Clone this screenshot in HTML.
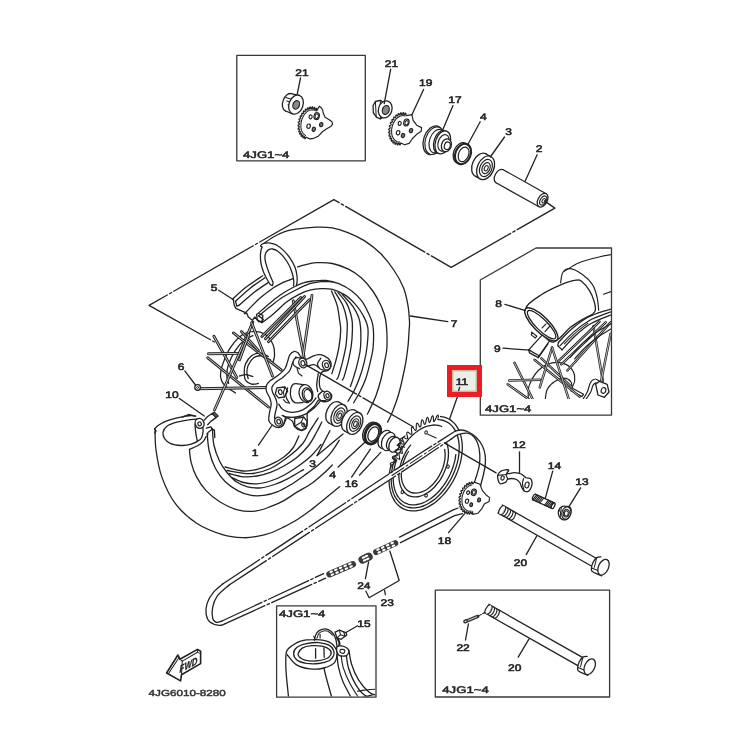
<!DOCTYPE html>
<html><head><meta charset="utf-8"><title>Rear wheel parts diagram</title>
<style>
html,body{margin:0;padding:0;background:#fff;}
svg{display:block;text-rendering:geometricPrecision;font-family:"Liberation Sans",sans-serif;}
path,line,ellipse{stroke-linecap:round;stroke-linejoin:round;}
</style></head><body>
<svg width="751" height="742" viewBox="0 0 751 742">
<rect width="751" height="742" fill="#fff"/>
<path d="M262.9 244.3C264.6 243 269.7 239.1 273.4 237C277 234.9 280.9 233 284.7 231.6C288.5 230.3 290.8 229.8 296 229.1C301.3 228.3 310.1 227.3 316.2 227.1C322.2 226.9 327 227 332.4 227.9C337.7 228.9 343.1 230.6 348.5 232.8C353.9 234.9 359.3 237.4 364.7 240.9C370.1 244.4 376 249 380.9 253.8C385.7 258.7 390 264.3 393.8 270C397.6 275.6 401.1 281.8 403.5 287.8C405.9 293.7 407 299.9 408 305.6C409 311.2 409.3 317.7 409.5 321.7C409.7 325.8 409.4 325.9 409.1 330C408.9 334.1 408.6 340.8 408 346.2C407.4 351.6 406.7 357 405.8 362.4C404.8 367.7 403.7 373.1 402.5 378.5C401.3 383.9 400.1 389.3 398.5 394.7C396.9 400.1 394.6 406.3 392.8 410.9C391 415.5 388.5 420.3 387.6 422.2" fill="none" stroke="#222" stroke-width="1.3" />
<path d="M297.6 266.9C298.8 266.6 301.8 265.5 304.9 264.8C307.9 264.1 311.6 262.9 316.2 262.7C320.8 262.5 327 262.4 332.4 263.5C337.7 264.6 343.7 266.8 348.5 269.2C353.4 271.6 357.4 274.4 361.5 278.1C365.5 281.7 369.5 286.4 372.8 291C376 295.6 378.7 300.7 380.9 305.6C383 310.4 384.7 313.4 385.7 320.1C386.7 326.9 387.2 339.1 387 346.2C386.8 353.2 385.4 357 384.4 362.4C383.4 367.7 382.5 373.1 381.2 378.5C379.8 383.9 378.1 389.8 376.3 394.7C374.6 399.5 372.1 404.4 370.6 407.6C369.2 410.9 368 413 367.4 414.1" fill="none" stroke="#222" stroke-width="1.3" />
<path d="M256.6 314.6C258.3 313.2 262.7 309.2 266.6 305.9C270.5 302.7 275.5 298.4 279.9 295.3C284.4 292.2 289.4 289.4 293.3 287.3C297.1 285.2 300 284 303.2 282.9C306.5 281.9 309.2 281.4 312.9 281C316.7 280.6 321.6 280 325.9 280.5C330.2 281 334.5 282 338.8 283.7C343.1 285.5 348 288.2 351.8 291C355.5 293.8 358.8 297.2 361.5 300.7C364.2 304.2 366 308 367.9 312C369.8 316.1 371.9 319.3 372.8 325C373.7 330.7 373.7 339.9 373.2 346.2C372.8 352.4 371.4 357 370.2 362.4C368.9 367.7 367.5 373.7 365.8 378.5C364.1 383.4 362.2 387.4 360.1 391.5C358.1 395.5 354.7 400.9 353.7 402.8" fill="none" stroke="#222" stroke-width="1.3" />
<path d="M258.6 315.9C260.4 314.5 265.3 310.4 269.3 307.3C273.3 304.2 278.2 300.2 282.6 297.3C287.1 294.4 291.4 292.2 295.9 290C300.4 287.7 305.5 285.1 309.7 283.7C313.9 282.4 317.3 282 321 281.6C324.8 281.3 330.5 281.8 332.4 281.8" fill="none" stroke="#222" stroke-width="1.3" />
<path d="M262 322.6C263.9 321.2 269.2 317.4 273.3 313.9C277.4 310.5 282.4 305.2 286.6 302C290.8 298.7 294.7 296.6 298.6 294.6C302.4 292.7 306 291.2 309.7 290.2C313.4 289.2 317.3 288.7 321 288.6C324.8 288.5 328.3 288.3 332.4 289.4C336.4 290.5 341.5 292.6 345.3 295.1C349.1 297.5 352 300.6 355 303.9C358 307.3 360.9 311.2 363.1 315.3C365.2 319.3 367.3 323.1 367.9 328.2C368.6 333.4 367.7 340.5 367.1 346.2C366.5 351.9 365.5 357 364.2 362.4C362.9 367.7 361.1 373.7 359.3 378.5C357.6 383.4 355.6 387.7 353.7 391.5C351.8 395.2 349 399.5 348 401.2" fill="none" stroke="#222" stroke-width="1.3" />
<path d="M256.6 314.6 L257.3 319.9 L262 322.6 L263.3 319.3 L258.6 315.9" fill="none" stroke="#222" stroke-width="1.3" />
<path d="M342.1 294.2C343.9 296.4 350.4 302.6 353.4 307.2C356.3 311.8 358.6 315.2 359.8 321.7C361 328.2 361 339.4 360.6 346.2C360.3 352.9 358.9 357.2 357.7 362.4C356.6 367.5 354.9 372.9 353.7 376.9C352.5 380.9 351 385 350.4 386.6" fill="none" stroke="#222" stroke-width="1.3" />
<path d="M338 292.6C339.5 294.5 344.6 299.6 346.9 303.9C349.2 308.3 350.8 314.2 351.8 318.5C352.7 322.9 352.5 325.4 352.4 330C352.3 334.6 352 340.8 351.2 346.2C350.5 351.6 349.2 357.2 348 362.4C346.8 367.5 344.9 373.9 344 376.9C343 379.9 342.6 379.6 342.4 380.1" fill="none" stroke="#222" stroke-width="1.3" />
<path d="M334.8 291.8C336.1 294.1 340.8 300.9 342.9 305.6C344.9 310.3 346.2 316.1 346.9 320.1C347.6 324.2 347.4 325.7 347.2 330C347 334.3 346.7 340.8 345.9 346.2C345.1 351.6 343.6 357.2 342.4 362.4C341.1 367.5 339.2 374.1 338.3 376.9C337.4 379.7 337 378.9 336.7 379.3" fill="none" stroke="#222" stroke-width="1.3" />
<path d="M331.5 291C332.5 293.4 335.9 300.7 337.2 305.6C338.5 310.4 339 316.1 339.6 320.1C340.2 324.2 340.8 325.7 340.7 330C340.6 334.3 339.9 341 339.1 346.2C338.3 351.3 337.1 356.1 335.9 360.7C334.7 365.3 332.5 371.5 331.8 373.7" fill="none" stroke="#222" stroke-width="1.3" />
<path d="M155 430C155.2 433.3 154.9 442.2 156 450C157.1 457.8 158.5 467.7 161.7 476.6C164.9 485.5 169.2 495.4 175 503.2C180.8 511 188.6 517.9 196.6 523.2C204.6 528.5 215.4 532.4 223.2 534.8C231 537.2 237.9 537.4 243.5 537.7C249.1 538 252.5 537.2 257 536.4C261.5 535.6 265.9 534.6 270.4 533C274.9 531.4 279.4 529.1 283.9 526.9C288.4 524.6 292.9 522.3 297.4 519.5C301.9 516.7 306.4 513.5 310.9 510.1C315.4 506.7 319.5 503.2 324.3 499.3C329.1 495.4 337.2 488.7 339.8 486.6" fill="none" stroke="#222" stroke-width="1.3" />
<path d="M189.4 449.4C189.7 451.6 190 458.1 191.2 462.6C192.4 467.1 193.9 471.9 196.4 476.6C198.9 481.3 202.2 486.4 206.1 490.6C210 494.8 214.8 498.8 220.1 502C225.3 505.2 231.8 508.4 237.6 509.9C243.4 511.4 249.6 511.7 255.1 511.2C260.6 510.7 265.6 508.5 270.4 506.7C275.2 504.9 279.4 503.1 283.9 500.6C288.4 498.1 292.7 494.8 297.4 491.9C302.1 489 307.6 486.3 312.3 483C317 479.7 322 475 325.3 472C328.6 469 331.1 466.2 332.3 465" fill="none" stroke="#222" stroke-width="1.3" />
<path d="M207.1 433.5C207.5 436.5 207.9 445.7 209.3 451.5C210.7 457.3 212.8 463.4 215.5 468.5C218.2 473.6 221.5 478.1 225.3 481.8C229.1 485.5 233.9 488.6 238.1 490.8C242.2 493 245.9 494.4 250.2 495.2C254.5 496 259.2 495.9 263.7 495.4C268.2 494.8 272.7 493.7 277.2 491.9C281.7 490.1 286.1 487.5 290.6 484.8C295.1 482.1 299.6 478.7 304.1 475.5C308.6 472.3 313.3 469.1 317.6 465.5C321.9 461.9 326.4 458 330 453.8C333.6 449.6 337.8 442.5 339.3 440.2" fill="none" stroke="#222" stroke-width="1.3" />
<path d="M212.5 428.4C212.7 431.2 212.7 439.6 213.9 445C215.1 450.4 217.3 456.4 219.5 461C221.7 465.6 224.2 469.1 227 472.5C229.8 475.9 232.6 479.1 236 481.5C239.4 483.9 243.3 485.8 247.5 486.8C251.7 487.9 256.5 488.2 261 487.8C265.5 487.4 270 486 274.5 484.5C279 483 283.2 481.1 288 478.6C292.8 476.1 300.9 471.1 303.5 469.6" fill="none" stroke="#222" stroke-width="1.3" />
<path d="M232 477.5C233.9 478.3 239.3 481.4 243.5 482.5C247.7 483.6 252.5 484.1 257 483.8C261.5 483.6 265.9 482.4 270.4 481C274.9 479.6 279.4 477.6 283.9 475.2C288.4 472.8 292.9 470 297.4 466.8C301.9 463.6 307.1 459.7 311 456C314.9 452.3 319.3 446.4 321 444.5" fill="none" stroke="#222" stroke-width="1.3" />
<path d="M229 473.5C231.4 474.1 238.8 476.4 243.5 476.8C248.2 477.2 252.5 476.8 257 476C261.5 475.2 265.9 474 270.4 472.3C274.9 470.6 279.4 468.6 283.9 466C288.4 463.4 293.2 460.5 297.4 457C301.6 453.5 305.8 449.2 309 445C312.2 440.8 314.6 435.8 316.7 432C318.8 428.2 320.9 423.7 321.8 422" fill="none" stroke="#222" stroke-width="1.3" />
<path d="M227 470.5C230.9 471 243 473.9 250.2 473.6C257.4 473.3 263.7 471.6 270.4 468.5C277.1 465.4 285.2 459.2 290.6 455C296 450.8 299.7 447.3 302.8 443.5C305.9 439.7 307.2 435.4 309.1 432.2C311 429 312.5 426.9 314 424.5C315.5 422.1 317.4 419.2 318.1 418.1" fill="none" stroke="#222" stroke-width="1.3" />
<path d="M225 467C228.1 467.7 238.2 470.6 243.5 471C248.8 471.4 252.5 470.5 257 469.4C261.5 468.3 265.9 466.7 270.4 464.6C274.9 462.5 280.1 459.8 283.9 457C287.7 454.2 290.5 451.5 293 448C295.5 444.5 297.9 438 298.9 436" fill="none" stroke="#222" stroke-width="1.3" />
<path d="M235.4 392.9C233.6 391.6 227.1 388.1 224.7 385.5C222.2 382.9 221.1 380.5 220.6 377.4C220.2 374.2 220.6 371.1 221.9 366.6C223.3 362.1 225.8 355.4 228.7 350.4C231.6 345.5 235.7 340.1 239.5 336.9C243.3 333.8 247.3 332 251.6 331.6C255.9 331.1 261.5 332 265.1 334.3C268.7 336.5 271.6 341.4 273.2 345C274.7 348.6 274.6 352.7 274.5 355.8C274.4 359 272.8 362.6 272.5 363.9" fill="none" stroke="#222" stroke-width="1.3" />
<path d="M228.7 383.4C228.4 382 226.7 377.9 226.7 374.7C226.7 371.4 227.2 368 228.7 363.9C230.2 359.9 232.7 354.5 235.4 350.4C238.1 346.4 242 342.1 244.9 339.6C247.8 337.2 251.6 336.3 252.9 335.6" fill="none" stroke="#222" stroke-width="1.3" />
<path d="M268.4 356.5C267 355.9 262.5 353.2 259.7 353.1C256.9 353 254 354 251.6 355.8C249.2 357.6 246.8 361.2 245.5 363.9C244.3 366.6 244.2 369.3 244.2 372C244.2 374.7 244.3 378.1 245.5 380.1C246.8 382.1 249.5 383.6 251.6 384.1C253.7 384.7 257.2 383.6 258.3 383.4" fill="none" stroke="#222" stroke-width="1.3" />
<path d="M270.5 359.9C268.9 359.2 263.8 356.2 261 355.8C258.2 355.5 255.8 356.3 253.6 357.8C251.5 359.4 249.4 362.8 248.2 365.3C247.1 367.7 246.9 370.4 246.9 372.7C246.9 374.9 248 377.7 248.2 378.7" fill="none" stroke="#222" stroke-width="1.3" />
<path d="M239.5 376C240.6 375.8 244 374.6 246.2 374.7C248.5 374.8 251.8 376.4 252.9 376.7" fill="none" stroke="#222" stroke-width="1.3" />
<line x1="213.9" y1="336.3" x2="236.8" y2="377.4" stroke="#222" stroke-width="2.86" stroke-linecap="butt"/>
<line x1="213.9" y1="336.3" x2="236.8" y2="377.4" stroke="#fff" stroke-width="0.78" stroke-linecap="butt"/>
<line x1="208.5" y1="353.8" x2="240.8" y2="353.4" stroke="#222" stroke-width="2.86" stroke-linecap="butt"/>
<line x1="208.5" y1="353.8" x2="240.8" y2="353.4" stroke="#fff" stroke-width="0.78" stroke-linecap="butt"/>
<line x1="207.8" y1="357.8" x2="268.4" y2="407" stroke="#222" stroke-width="2.86" stroke-linecap="butt"/>
<line x1="207.8" y1="357.8" x2="268.4" y2="407" stroke="#fff" stroke-width="0.78" stroke-linecap="butt"/>
<line x1="197" y1="388.8" x2="266.4" y2="387.5" stroke="#222" stroke-width="2.86" stroke-linecap="butt"/>
<line x1="197" y1="388.8" x2="266.4" y2="387.5" stroke="#fff" stroke-width="0.78" stroke-linecap="butt"/>
<line x1="214.5" y1="410" x2="252.9" y2="322.1" stroke="#222" stroke-width="2.86" stroke-linecap="butt"/>
<line x1="214.5" y1="410" x2="252.9" y2="322.1" stroke="#fff" stroke-width="0.78" stroke-linecap="butt"/>
<line x1="233.4" y1="332.9" x2="281.2" y2="370" stroke="#222" stroke-width="2.86" stroke-linecap="butt"/>
<line x1="233.4" y1="332.9" x2="281.2" y2="370" stroke="#fff" stroke-width="0.78" stroke-linecap="butt"/>
<line x1="241.5" y1="331.6" x2="258.3" y2="350.4" stroke="#222" stroke-width="2.86" stroke-linecap="butt"/>
<line x1="241.5" y1="331.6" x2="258.3" y2="350.4" stroke="#fff" stroke-width="0.78" stroke-linecap="butt"/>
<line x1="251.6" y1="322.8" x2="272.5" y2="376" stroke="#222" stroke-width="2.86" stroke-linecap="butt"/>
<line x1="251.6" y1="322.8" x2="272.5" y2="376" stroke="#fff" stroke-width="0.78" stroke-linecap="butt"/>
<line x1="239.5" y1="359.9" x2="248.9" y2="334.3" stroke="#222" stroke-width="2.86" stroke-linecap="butt"/>
<line x1="239.5" y1="359.9" x2="248.9" y2="334.3" stroke="#fff" stroke-width="0.78" stroke-linecap="butt"/>
<line x1="293.2" y1="300.8" x2="304.6" y2="360.1" stroke="#222" stroke-width="2.86" stroke-linecap="butt"/>
<line x1="293.2" y1="300.8" x2="304.6" y2="360.1" stroke="#fff" stroke-width="0.78" stroke-linecap="butt"/>
<line x1="312" y1="295.4" x2="302.5" y2="360.1" stroke="#222" stroke-width="2.86" stroke-linecap="butt"/>
<line x1="312" y1="295.4" x2="302.5" y2="360.1" stroke="#fff" stroke-width="0.78" stroke-linecap="butt"/>
<line x1="300.8" y1="297.6" x2="261.9" y2="336.4" stroke="#222" stroke-width="2.86" stroke-linecap="butt"/>
<line x1="300.8" y1="297.6" x2="261.9" y2="336.4" stroke="#fff" stroke-width="0.78" stroke-linecap="butt"/>
<line x1="309.4" y1="299.7" x2="268.4" y2="341.8" stroke="#222" stroke-width="2.86" stroke-linecap="butt"/>
<line x1="309.4" y1="299.7" x2="268.4" y2="341.8" stroke="#fff" stroke-width="0.78" stroke-linecap="butt"/>
<line x1="304.6" y1="296.5" x2="265.4" y2="338.7" stroke="#222" stroke-width="2.86" stroke-linecap="butt"/>
<line x1="304.6" y1="296.5" x2="265.4" y2="338.7" stroke="#fff" stroke-width="0.78" stroke-linecap="butt"/>
<path d="M272.4 285.5C272.1 285.3 271.1 285.5 270.3 284.6C269.5 283.7 268.7 282.3 267.6 280.3C266.5 278.3 264.9 275.4 263.8 272.7C262.7 270 261.7 266.8 261.1 264.1C260.5 261.4 260.4 259 260.4 256.6C260.4 254.1 260.8 251.1 261.1 249.6C261.4 248 262.3 248 262.2 247.4C262.1 246.8 260.3 246.4 260.6 245.8C260.8 245.1 262.2 243.9 263.8 243.4C265.4 243 268.1 242.8 270.3 243.1C272.4 243.4 274.6 244.1 276.8 245.2C278.9 246.4 281.1 248 283.2 250.1C285.4 252.2 287.7 254.8 289.7 257.6C291.7 260.5 293.9 264.3 295.1 267.4C296.3 270.4 296.7 273.5 297 276C297.3 278.5 297.2 280.8 297 282.4C296.9 284.1 296.3 285.1 296.2 285.7" fill="#fff" stroke="#222" stroke-width="1.3" />
<path d="M293.5 285.7C293.5 285 294 283.3 293.8 281.4C293.6 279.4 293.2 276.5 292.4 273.8C291.6 271.1 290.6 268 289.1 265.2C287.7 262.4 285.6 259.4 283.8 257.1C281.9 254.8 279.7 252.5 277.8 251.2C275.9 249.8 274.1 249.2 272.4 249C270.8 248.8 269.3 249.3 268.1 250.1C267 250.9 265.9 252.3 265.4 253.9C264.9 255.5 264.8 257.6 265.1 259.8C265.4 262 266.2 264.7 267.1 267.4C267.9 270 269.3 273.5 270.3 276C271.3 278.5 272.6 280.9 273 282.4C273.3 284 272.5 285 272.4 285.5" fill="#fff" stroke="#222" stroke-width="1.3" />
<path d="M233.1 298.6C235.3 296.6 241.6 290.6 246.6 286.8C251.5 282.9 260 277.6 262.7 275.8" fill="none" stroke="#222" stroke-width="1.3" />
<path d="M235.5 301.3C237.8 299.2 244.4 292.8 249.3 288.9C254.1 285 262.1 279.7 264.7 277.9" fill="none" stroke="#222" stroke-width="1.3" />
<path d="M239 305.3C241.4 303.3 248.2 297 253 293.2C257.9 289.4 265.6 284.4 268.1 282.6" fill="none" stroke="#222" stroke-width="1.3" />
<path d="M246 312.1C248.3 309.8 254.9 302.7 259.5 298.6C264.1 294.6 269.6 290.5 273.5 287.8C277.5 285.1 280 284 283.2 282.4C286.5 280.9 291.3 279.3 292.9 278.7" fill="none" stroke="#222" stroke-width="1.3" />
<path d="M233.1 298.6 L234.2 305.1 L235.8 308.3 L245.5 312.6" fill="none" stroke="#222" stroke-width="1.3" />
<path d="M235.5 301.3 L236.9 306.2 L239 305.3" fill="none" stroke="#222" stroke-width="1.3" />
<path d="M244.3 313.8 L246.7 313 L248.3 317 L252.3 320.3 L254.8 317 L258.8 321.9 L262.1 321.1 L262.9 315.4 L258.8 313.5" fill="none" stroke="#222" stroke-width="1.3" />
<path d="M154.6 428.9C155.4 428.2 156.9 426.2 159.2 424.8C161.5 423.4 164.5 421.7 168.2 420.4C171.8 419.1 177.1 417.9 181 417.1C184.8 416.3 188.7 415.7 191.2 415.5C193.7 415.4 195 416 195.8 416.1" fill="none" stroke="#222" stroke-width="1.3" />
<path d="M154.6 428.9 L156.1 430.9 L154.8 433.2" fill="none" stroke="#222" stroke-width="1.3" />
<path d="M163 432.4C163.4 430.4 164.7 428 166.9 426.3C169 424.6 172.2 423.5 175.8 422.4C179.5 421.4 185 420.4 188.6 419.9C192.3 419.3 195.5 418.8 197.6 419.1C199.7 419.4 200.5 420.2 201.4 421.7C202.3 423.2 202.8 426 203 428.1C203.2 430.1 203.2 432 202.7 434C202.2 435.9 202.1 437.9 200.2 439.6C198.2 441.3 194.4 443.2 191.2 444.2C188 445.2 184.4 445.6 181 445.5C177.5 445.4 173.4 444.9 170.7 443.7C168 442.5 165.9 440.5 164.6 438.6C163.3 436.7 162.7 434.5 163 432.4Z" fill="none" stroke="#222" stroke-width="1.3" />
<path d="M195 424.8C195.2 426.2 195.4 430.5 195.8 433.2C196.2 435.9 197.1 439.8 197.3 441.1" fill="none" stroke="#222" stroke-width="1.3" />
<path d="M189.9 449.1C191.2 448.5 195.3 447.1 197.6 445.8C199.9 444.4 202.1 442.7 203.5 441.1C204.9 439.6 205.6 437.3 206.1 436.5" fill="none" stroke="#222" stroke-width="1.3" />
<path d="M182.2 417.1 L188.6 414.5 L195 416.1" fill="none" stroke="#222" stroke-width="1.3" />
<path d="M206.3 428.2 L211 426.8 L212 429.5 L207.9 432.5 L207.3 437.6" fill="none" stroke="#222" stroke-width="1.3" />
<path d="M212 429.5 L214.4 429.8 L214.8 437.6" fill="none" stroke="#222" stroke-width="1.3" />
<ellipse cx="199.6" cy="423.4" rx="4.4" ry="5" fill="#fff" stroke="#222" stroke-width="1.43" transform="rotate(-20 199.6 423.4)" />
<ellipse cx="199.6" cy="423.9" rx="1.7" ry="2" fill="none" stroke="#222" stroke-width="1.17" transform="rotate(-20 199.6 423.9)" />
<path d="M204.3 420.1 L207.3 416.7 L212.4 413.3 L216.4 417.4 L210.8 421.4 L207.7 424.8" fill="#fff" stroke="#222" stroke-width="1.3" />
<path d="M212 413.6 L214.4 412 L218.4 416 L216 417.6Z" fill="#555" stroke="#222" stroke-width="1.04" />
<ellipse cx="197.6" cy="387.5" rx="2.8" ry="2.8" fill="#fff" stroke="#222" stroke-width="1.3" />
<ellipse cx="197.6" cy="387.5" rx="1" ry="1" fill="none" stroke="#222" stroke-width="0.91" />
<line x1="184.8" y1="370.9" x2="195.5" y2="385" stroke="#222" stroke-width="1.3" />
<line x1="179.4" y1="398.5" x2="204.3" y2="416" stroke="#222" stroke-width="1.3" />
<line x1="258.5" y1="445.2" x2="271.9" y2="425.5" stroke="#222" stroke-width="1.3" />
<path d="M293.9 351.5C295.2 351.2 296.7 351.9 297.9 352.8C299.1 353.8 299.8 356.1 301.2 357.2C302.5 358.3 304.1 359.4 306 359.3C307.9 359.2 310.5 357.2 312.5 356.4C314.5 355.6 316.2 354.7 318.1 354.6C320.1 354.5 322.2 354.9 324.1 355.9C326.1 356.9 328.8 358.7 329.9 360.4C331.1 362.1 331.4 364.4 331.1 366.1C330.7 367.8 329.2 369.6 327.9 370.5C326.5 371.3 324.2 370.8 323 371.4C321.8 372.1 321.2 372.5 320.6 374.2C319.9 375.9 319.4 379.2 319.3 381.5C319.2 383.8 319.4 386.3 320.1 387.9C320.8 389.6 321.8 390.6 323.5 391.5C325.2 392.4 328.9 392.1 330.3 393.1C331.6 394.1 331.8 396.3 331.6 397.6C331.3 398.9 330.1 400.2 328.7 400.9C327.2 401.5 324.7 401.8 323 401.7C321.3 401.5 320.1 399.3 318.6 400.1C317.1 400.9 315.9 404.5 314.1 406.5C312.3 408.6 308.8 410.1 307.6 412.5C306.5 414.9 307.5 418.5 307.3 421.1C307.1 423.7 307.4 426.4 306.3 428C305.3 429.6 303.1 430.8 301.2 430.6C299.2 430.4 296.2 428.3 294.7 426.7C293.2 425.1 293.8 422.5 292.3 421.1C290.8 419.6 287.3 417.3 285.8 418C284.3 418.7 284.6 423.5 283.4 425.1C282.2 426.7 280.3 427.5 278.5 427.6C276.8 427.6 274.5 426.6 272.9 425.4C271.2 424.3 269.4 422.8 268.8 420.6C268.3 418.4 269.2 414.9 269.6 412.2C270 409.4 271.2 406.5 271.2 404.1C271.2 401.7 270.4 399.8 269.6 397.6C268.8 395.5 266.9 393.2 266.4 391.2C265.9 389.1 265.7 387.3 266.4 385.5C267.1 383.7 268.4 382.4 270.4 380.6C272.5 378.9 276.1 377 278.5 375C280.9 373 283.5 370.7 285 368.5C286.5 366.4 286.6 364.3 287.4 362.1C288.2 359.8 288.8 356.5 289.8 354.8C290.9 353 292.5 351.9 293.9 351.5Z" fill="#fff" stroke="#222" stroke-width="1.3" />
<path d="M296 356.9C295.4 358 293.5 361.1 292.4 363.3C291.4 365.6 291.3 368.2 289.8 370.5C288.3 372.7 285.7 374.9 283.4 376.9C281 378.9 277.5 380.7 275.6 382.4C273.7 384.2 272.4 385.7 271.9 387.3C271.4 388.9 271.9 390.4 272.5 392.1C273.1 393.9 274.7 395.8 275.4 397.8C276.2 399.8 277.1 401.8 277.1 404.3C277.1 406.7 275.9 410 275.4 412.4C275 414.7 274.4 416.8 274.6 418.3C274.9 419.8 276.5 420.8 276.9 421.2" fill="none" stroke="#222" stroke-width="1.3" />
<path d="M320.6 400.9C319.5 402.1 316.5 406 314.1 408.1C311.7 410.3 309 412.3 306 413.8C303 415.3 299.5 416.5 296.3 417C293.1 417.6 289 417.3 286.6 417C284.2 416.8 282.8 415.7 282.1 415.4" fill="none" stroke="#222" stroke-width="1.3" />
<path d="M316 398C315.2 399 313.1 402.1 310.9 404.1C308.7 406.1 305.5 408.4 302.8 409.8C300.1 411.1 297.4 411.9 294.7 412.2C292 412.5 288.8 412 286.6 411.4C284.5 410.8 283 409.8 281.8 408.6C280.5 407.4 279.3 404.9 278.8 404.1" fill="none" stroke="#222" stroke-width="1.3" />
<path d="M318.3 373.7C318 375.5 316.8 381.7 316.7 384.7C316.6 387.7 317.5 390.4 317.7 391.5" fill="none" stroke="#222" stroke-width="1.3" />
<path d="M303.6 358.2C302.3 358.1 297.7 357.3 296 357.9C294.3 358.4 293.6 360.1 293.2 361.4C292.9 362.7 293 364.4 294.1 365.6C295.1 366.9 298.6 368.3 299.6 368.8" fill="#fff" stroke="#222" stroke-width="1.3" />
<ellipse cx="302.8" cy="363" rx="3.9" ry="4.9" fill="#fff" stroke="#222" stroke-width="1.3" transform="rotate(-20 302.8 363)" />
<ellipse cx="302.9" cy="363.2" rx="1.9" ry="2.6" fill="none" stroke="#222" stroke-width="1.17" transform="rotate(-20 302.9 363.2)" />
<path d="M307 366.3C308.2 366 312.2 364.5 314.1 364.6C316 364.8 317.9 366.8 318.6 367.2" fill="none" stroke="#222" stroke-width="1.3" />
<path d="M320.9 358.2C320.3 359.1 317.7 361.9 317.5 363.7C317.3 365.4 318.7 367.6 319.9 368.7C321.2 369.8 324.2 370 325.1 370.3" fill="#fff" stroke="#222" stroke-width="1.3" />
<ellipse cx="326.4" cy="365.1" rx="3.9" ry="4.9" fill="#fff" stroke="#222" stroke-width="1.3" transform="rotate(-20 326.4 365.1)" />
<ellipse cx="326.6" cy="365.3" rx="1.8" ry="2.4" fill="none" stroke="#222" stroke-width="1.17" transform="rotate(-20 326.6 365.3)" />
<path d="M322.5 391.3C321.8 392 318.6 393.9 318.3 395.4C318 396.9 319.5 399.3 320.7 400.2C322 401.1 324.9 400.6 325.8 400.7" fill="#fff" stroke="#222" stroke-width="1.3" />
<ellipse cx="327.4" cy="395.5" rx="3.4" ry="4.4" fill="#fff" stroke="#222" stroke-width="1.3" transform="rotate(-20 327.4 395.5)" />
<ellipse cx="327.5" cy="395.7" rx="1.5" ry="2.1" fill="none" stroke="#222" stroke-width="1.17" transform="rotate(-20 327.5 395.7)" />
<path d="M276.9 387.9 L285 387 L287.6 391.2 L284.3 397 L278.5 397.8 L275.3 393.8Z" fill="#fff" stroke="#222" stroke-width="1.3" />
<ellipse cx="280.3" cy="392.1" rx="1.8" ry="2.4" fill="none" stroke="#222" stroke-width="1.17" transform="rotate(-20 280.3 392.1)" />
<path d="M285 387 L283.4 392.5 L284.3 397" fill="none" stroke="#222" stroke-width="1.04" />
<path d="M283.7 415.8C284.1 416.3 286.1 417.4 286 419C285.8 420.6 283.3 424.4 282.7 425.4" fill="none" stroke="#222" stroke-width="1.3" />
<ellipse cx="278.5" cy="421.6" rx="3.7" ry="4.5" fill="#fff" stroke="#222" stroke-width="1.3" transform="rotate(-20 278.5 421.6)" />
<ellipse cx="278.7" cy="421.7" rx="1.8" ry="2.3" fill="none" stroke="#222" stroke-width="1.17" transform="rotate(-20 278.7 421.7)" />
<path d="M294.7 418.7 L303.6 417 L307 421.2 L306.2 427.7 L301.2 430.3 L294.7 426.3Z" fill="#fff" stroke="#222" stroke-width="1.3" />
<path d="M303.6 417 L301.2 422.2 L294.7 426.3" fill="none" stroke="#222" stroke-width="1.04" />
<path d="M301.2 422.2 L306.2 427.7" fill="none" stroke="#222" stroke-width="1.04" />
<ellipse cx="303.3" cy="425" rx="1.5" ry="1.9" fill="none" stroke="#222" stroke-width="1.17" transform="rotate(-20 303.3 425)" />
<path d="M287.6 387.9C287.3 389.3 285.5 393.5 285.8 396C286.1 398.5 288.6 401.7 289.2 402.8" fill="none" stroke="#222" stroke-width="1.3" />
<path d="M303.6 384.7C302 384.6 296.2 383.1 294.1 383.9C291.9 384.7 291.1 387.2 290.6 389.6C290.2 391.9 290.4 395.8 291.1 398C291.8 400.1 292.9 401.9 294.9 402.6C296.9 403.4 301.7 402.6 303.1 402.6" fill="#fff" stroke="#222" stroke-width="1.3" />
<ellipse cx="306" cy="393.6" rx="6.8" ry="9.1" fill="#fff" stroke="#222" stroke-width="1.3" transform="rotate(-15 306 393.6)" />
<ellipse cx="307.3" cy="394.7" rx="4.9" ry="7" fill="none" stroke="#222" stroke-width="1.3" transform="rotate(-15 307.3 394.7)" />
<ellipse cx="308" cy="395.2" rx="3.9" ry="5.8" fill="none" stroke="#222" stroke-width="1.04" transform="rotate(-15 308 395.2)" />
<path d="M297.1 368.5C297.4 369.3 297.9 372.1 298.7 373.4C299.6 374.6 301.6 375.5 302.1 376" fill="none" stroke="#222" stroke-width="1.17" />
<path d="M283.4 399.6C283.8 400 284.8 401.6 285.8 402.2C286.8 402.8 288.9 403 289.5 403.1" fill="none" stroke="#222" stroke-width="1.17" />
<line x1="305.4" y1="364.6" x2="413.5" y2="427" stroke="#222" stroke-width="1.3" stroke-dasharray="59 2.5 2.5 2.5"/>
<ellipse cx="333.9" cy="412.6" rx="7.3" ry="11.6" fill="#fff" stroke="#222" stroke-width="1.3" transform="rotate(24 333.9 412.6)" />
<path d="M329.2 423.2 L334.4 426 L343.8 404.8 L338.6 402Z" fill="#fff" stroke="none" stroke-width="0.0" />
<line x1="329.2" y1="423.2" x2="334.4" y2="426" stroke="#222" stroke-width="1.3" />
<line x1="338.6" y1="402" x2="343.8" y2="404.8" stroke="#222" stroke-width="1.3" />
<ellipse cx="339.1" cy="415.4" rx="7.3" ry="11.6" fill="#fff" stroke="#222" stroke-width="1.3" transform="rotate(24 339.1 415.4)" />
<ellipse cx="339.4" cy="415.6" rx="5.1" ry="8.1" fill="none" stroke="#222" stroke-width="1.17" transform="rotate(24 339.4 415.6)" />
<ellipse cx="339.6" cy="415.7" rx="3.2" ry="5.1" fill="none" stroke="#222" stroke-width="1.17" transform="rotate(24 339.6 415.7)" />
<ellipse cx="339.7" cy="415.8" rx="1.6" ry="2.8" fill="none" stroke="#222" stroke-width="1.04" transform="rotate(24 339.7 415.8)" />
<ellipse cx="349.6" cy="420.6" rx="7.3" ry="11.6" fill="#fff" stroke="#222" stroke-width="1.3" transform="rotate(24 349.6 420.6)" />
<path d="M344.9 431.2 L350.1 434 L359.5 412.8 L354.3 410Z" fill="#fff" stroke="none" stroke-width="0.0" />
<line x1="344.9" y1="431.2" x2="350.1" y2="434" stroke="#222" stroke-width="1.3" />
<line x1="354.3" y1="410" x2="359.5" y2="412.8" stroke="#222" stroke-width="1.3" />
<ellipse cx="354.8" cy="423.4" rx="7.3" ry="11.6" fill="#fff" stroke="#222" stroke-width="1.3" transform="rotate(24 354.8 423.4)" />
<ellipse cx="355.1" cy="423.6" rx="5.1" ry="8.1" fill="none" stroke="#222" stroke-width="1.17" transform="rotate(24 355.1 423.6)" />
<ellipse cx="355.3" cy="423.7" rx="3.2" ry="5.1" fill="none" stroke="#222" stroke-width="1.17" transform="rotate(24 355.3 423.7)" />
<ellipse cx="355.4" cy="423.8" rx="1.6" ry="2.8" fill="none" stroke="#222" stroke-width="1.04" transform="rotate(24 355.4 423.8)" />
<ellipse cx="371.3" cy="433" rx="8.1" ry="11.3" fill="#fff" stroke="#222" stroke-width="1.3" transform="rotate(24 371.3 433)" />
<ellipse cx="372.8" cy="433.8" rx="7.4" ry="10.6" fill="#fff" stroke="#222" stroke-width="2.86" transform="rotate(24 372.8 433.8)" />
<ellipse cx="373.3" cy="434.1" rx="4.9" ry="7.6" fill="#fff" stroke="#222" stroke-width="1.3" transform="rotate(24 373.3 434.1)" />
<ellipse cx="385" cy="439.5" rx="6.5" ry="9.6" fill="#fff" stroke="#222" stroke-width="1.3" transform="rotate(24 385 439.5)" />
<ellipse cx="388.5" cy="441.5" rx="6.5" ry="9.6" fill="#fff" stroke="#222" stroke-width="1.3" transform="rotate(24 388.5 441.5)" />
<ellipse cx="391.5" cy="443.1" rx="4.6" ry="7" fill="#fff" stroke="#222" stroke-width="1.3" transform="rotate(24 391.5 443.1)" />
<ellipse cx="394.5" cy="444.7" rx="5.2" ry="7.8" fill="#fff" stroke="#222" stroke-width="1.3" transform="rotate(24 394.5 444.7)" />
<line x1="317.1" y1="455.6" x2="343" y2="434" stroke="#222" stroke-width="1.3" />
<line x1="317.1" y1="455.6" x2="329.9" y2="430.8" stroke="#222" stroke-width="1.3" />
<line x1="338.1" y1="467" x2="365.7" y2="441.6" stroke="#222" stroke-width="1.3" />
<line x1="351.6" y1="477.1" x2="370.4" y2="449.1" stroke="#222" stroke-width="1.3" />
<line x1="359.6" y1="475" x2="380.8" y2="452.4" stroke="#222" stroke-width="1.3" />
<path d="M393.9 466.1C393.3 465.9 391 465.2 390.5 464.7C390.1 464.2 390.2 463.6 391 463C391.7 462.5 394.3 462.1 395.1 461.6C395.8 461.1 396 460.7 395.5 460.1C395.1 459.5 393 458.6 392.6 458C392.2 457.3 392.4 456.7 393.2 456.3C394 455.9 396.4 455.9 397.2 455.6C398 455.2 398.1 454.8 397.8 454.1C397.5 453.4 395.6 452.1 395.3 451.3C395 450.6 395.3 450 396 449.7C396.8 449.4 399.1 450 399.9 449.7C400.6 449.5 400.9 449.1 400.6 448.3C400.4 447.5 398.8 445.8 398.6 444.9C398.4 444.1 398.7 443.5 399.5 443.4C400.2 443.3 402.3 444.3 403.1 444.2C403.8 444.1 404.1 443.7 404 442.8C403.8 442 402.5 439.8 402.4 438.9C402.3 438 402.7 437.5 403.4 437.5C404.2 437.5 406 438.9 406.7 439C407.4 439 407.7 438.7 407.7 437.8C407.7 436.8 406.7 434.3 406.7 433.4C406.7 432.4 407.2 431.9 407.9 432.1C408.5 432.2 410.1 434.1 410.8 434.3C411.4 434.5 411.7 434.2 411.8 433.2C411.9 432.2 411.3 429.4 411.4 428.5C411.5 427.5 412 427 412.6 427.3C413.2 427.6 414.5 429.9 415.1 430.2C415.7 430.5 416 430.2 416.2 429.3C416.4 428.3 416.1 425.2 416.4 424.2C416.6 423.2 417.1 422.9 417.6 423.3C418.2 423.7 419.1 426.3 419.6 426.7C420.2 427.2 420.5 427 420.8 426C421.1 425 421.2 421.8 421.5 420.8C421.8 419.8 422.3 419.5 422.8 420.1C423.3 420.6 423.8 423.5 424.3 424C424.7 424.6 425 424.5 425.5 423.5C425.9 422.5 426.3 419.2 426.7 418.2C427.2 417.2 427.7 417 428 417.7C428.4 418.3 428.6 421.4 429 422.1C429.3 422.8 429.6 422.7 430.1 421.8C430.6 420.8 431.4 417.4 431.9 416.5C432.5 415.6 433 415.5 433.2 416.2C433.5 417 433.3 420.3 433.6 421C433.8 421.8 434.1 421.8 434.7 420.9C435.3 420 436.4 416.6 437 415.8C437.6 414.9 438.1 414.9 438.3 415.7C438.4 416.6 437.9 419.9 438 420.8C438.2 421.6 439 420.8 439.1 420.9" fill="none" stroke="#222" stroke-width="1.17" />
<path d="M440.5 416.5C441.1 416.6 443 416.9 444.2 417.2C445.5 417.5 446.6 418 447.8 418.5C448.9 419 450 419.7 451 420.4C452 421.1 453 422 453.9 422.9C454.8 423.8 455.6 424.8 456.4 425.9C457.1 427 457.8 428.2 458.5 429.4C459.1 430.7 459.7 432 460.1 433.4C460.6 434.8 461 436.3 461.3 437.8C461.7 439.3 461.9 440.9 462.1 442.5C462.2 444.1 462.3 445.8 462.3 447.5C462.3 449.2 462.2 451 462 452.8C461.9 454.5 461.6 456.3 461.3 458.1C461 460 460.6 461.8 460.1 463.6C459.6 465.4 459.1 467.2 458.4 469.1C457.8 470.9 457.1 472.7 456.3 474.4C455.6 476.2 454.7 478 453.8 479.7C452.9 481.4 451.9 483.1 450.9 484.7C449.9 486.3 448.8 487.9 447.7 489.4C446.6 491 445.4 492.4 444.2 493.8C442.9 495.2 441.7 496.6 440.4 497.8C439.1 499.1 437.8 500.3 436.4 501.4C435.1 502.5 433.7 503.5 432.3 504.4C430.9 505.3 429.5 506.2 428.1 506.9C426.7 507.7 425.3 508.3 423.9 508.8C422.5 509.4 421.1 509.8 419.7 510.2C418.3 510.5 416.9 510.7 415.6 510.9C414.2 511 412.9 511 411.6 510.9C410.3 510.8 409 510.6 407.8 510.4C406.5 510.1 405.4 509.7 404.2 509.2C403.1 508.7 402 508.1 400.9 507.4C399.9 506.7 398.9 505.9 398 505C397.1 504.1 396.2 503.1 395.4 502.1C394.6 501 393.9 499.8 393.3 498.6C392.6 497.4 392 496.1 391.5 494.7C391 493.3 390.6 491.9 390.2 490.4C389.9 488.9 389.6 487.3 389.4 485.7C389.2 484.1 389.1 482.4 389.1 480.7C389.1 479 389.1 477.3 389.3 475.5C389.4 473.8 389.6 472 389.9 470.2C390.2 468.4 390.9 465.6 391.1 464.7" fill="#fff" stroke="#222" stroke-width="1.3" />
<path d="M438 419.5C438.6 419.6 440.5 419.7 441.7 420C442.9 420.2 444.1 420.6 445.2 421.1C446.3 421.5 447.3 422.1 448.3 422.8C449.3 423.5 450.3 424.2 451.2 425.1C452 426 452.9 426.9 453.6 428C454.4 429 455.1 430.1 455.7 431.3C456.3 432.6 456.8 433.8 457.3 435.2C457.7 436.6 458.1 438 458.4 439.5C458.7 440.9 458.9 442.5 459.1 444.1C459.2 445.7 459.2 447.3 459.2 449C459.2 450.7 459.1 452.4 458.9 454.1C458.7 455.8 458.4 457.6 458.1 459.4C457.7 461.1 457.3 462.9 456.8 464.7C456.3 466.4 455.7 468.2 455 470C454.4 471.7 453.6 473.5 452.8 475.2C452.1 476.9 451.2 478.6 450.3 480.2C449.3 481.9 448.4 483.5 447.3 485C446.3 486.6 445.2 488.1 444.1 489.5C442.9 491 441.7 492.4 440.5 493.7C439.3 495 438 496.2 436.8 497.4C435.5 498.5 434.2 499.6 432.8 500.6C431.5 501.5 430.1 502.4 428.8 503.2C427.4 504 426.1 504.7 424.7 505.3C423.3 505.9 422 506.4 420.6 506.8C419.3 507.2 417.9 507.5 416.6 507.7C415.3 507.9 414 507.9 412.7 507.9C411.4 507.9 410.2 507.7 409 507.5C407.8 507.3 406.6 506.9 405.5 506.5C404.4 506 403.3 505.4 402.3 504.8C401.3 504.1 400.4 503.4 399.5 502.5C398.6 501.7 397.7 500.7 397 499.7C396.2 498.7 395.5 497.6 394.9 496.4C394.3 495.2 393.7 493.9 393.3 492.6C392.8 491.2 392.4 489.8 392.1 488.3C391.8 486.8 391.5 485.3 391.4 483.7C391.2 482.2 391.2 480.5 391.2 478.8C391.2 477.2 391.3 475.5 391.5 473.7C391.6 472 391.9 470.3 392.2 468.5C392.6 466.7 393 465 393.5 463.2C394 461.4 394.9 458.8 395.2 457.9" fill="none" stroke="#222" stroke-width="1.3" />
<path d="M455.8 454.7C455.7 455.5 455.4 457.8 455.1 459.4C454.8 460.9 454.4 462.5 453.9 464.1C453.5 465.7 453 467.3 452.4 468.8C451.8 470.4 451.2 471.9 450.5 473.5C449.8 475 449.1 476.5 448.3 478C447.5 479.5 446.6 480.9 445.7 482.4C444.8 483.8 443.9 485.1 442.9 486.4C441.9 487.8 440.9 489 439.8 490.2C438.7 491.4 437.6 492.6 436.5 493.7C435.4 494.8 434.3 495.8 433.1 496.7C431.9 497.7 430.7 498.5 429.6 499.3C428.4 500.1 427.2 500.8 426 501.5C424.7 502.1 423.5 502.6 422.3 503.1C421.1 503.5 419.9 503.9 418.7 504.2C417.6 504.5 416.4 504.7 415.2 504.8C414.1 504.9 412.9 504.9 411.8 504.8C410.7 504.7 409.7 504.6 408.6 504.3C407.6 504 406.6 503.7 405.6 503.2C404.7 502.8 403.8 502.3 402.9 501.7C402 501 401.2 500.4 400.4 499.6C399.7 498.8 398.9 497.9 398.3 497C397.6 496.1 397 495.1 396.5 494C396 493 395.5 491.8 395.1 490.6C394.7 489.4 394.3 488.2 394.1 486.9C393.8 485.6 393.6 484.2 393.4 482.8C393.3 481.4 393.2 480 393.2 478.5C393.2 477 393.3 475.5 393.5 474C393.6 472.4 393.8 470.9 394.1 469.3C394.4 467.8 394.7 466.2 395.1 464.6C395.5 463 396.3 460.7 396.6 459.9" fill="none" stroke="#222" stroke-width="1.3" />
<path d="M446.7 443C446.9 443.6 447.6 445.5 447.8 446.8C448.1 448.2 448.3 449.6 448.4 451C448.5 452.5 448.5 454 448.4 455.6C448.3 457.2 448.2 458.8 447.9 460.4C447.6 462 447.2 463.6 446.8 465.2C446.3 466.8 445.8 468.5 445.1 470.1C444.5 471.7 443.8 473.2 443 474.8C442.3 476.3 441.4 477.8 440.5 479.3C439.6 480.7 438.6 482.1 437.5 483.4C436.5 484.8 435.4 486 434.3 487.2C433.1 488.3 432 489.4 430.8 490.4C429.6 491.4 428.3 492.3 427.1 493C425.9 493.8 424.6 494.5 423.4 495C422.1 495.6 420.9 496 419.6 496.3C418.4 496.6 417.2 496.8 416 496.9C414.8 496.9 413.6 496.9 412.5 496.7C411.4 496.5 410.3 496.2 409.3 495.8C408.3 495.4 407.3 494.9 406.4 494.2C405.5 493.6 404.7 492.8 404 491.9C403.2 491.1 402.5 490.1 401.9 489C401.3 488 400.8 486.8 400.4 485.6C400 484.3 399.6 483 399.4 481.6C399.1 480.3 399 478.8 398.9 477.3C398.9 475.8 398.9 474.3 399 472.7C399.2 471.2 399.4 469.5 399.7 467.9C400 466.3 400.5 464.7 401 463.1C401.4 461.4 402 459.8 402.7 458.2C403.4 456.7 404.1 455.1 404.9 453.6C405.7 452 406.6 450.5 407.6 449.1C408.5 447.7 410.1 445.7 410.6 445.1" fill="none" stroke="#222" stroke-width="1.3" />
<path d="M444.7 449.5C444.7 450 445 451.8 445.1 453C445.2 454.2 445.2 455.4 445.1 456.7C445 457.9 444.9 459.2 444.7 460.6C444.4 461.9 444.2 463.2 443.8 464.5C443.5 465.8 443 467.2 442.6 468.5C442.1 469.8 441.5 471.1 440.9 472.4C440.3 473.6 439.7 474.9 439 476.1C438.3 477.3 437.5 478.5 436.7 479.6C435.9 480.7 435 481.8 434.1 482.8C433.3 483.9 432.3 484.8 431.4 485.7C430.5 486.6 429.5 487.4 428.5 488.2C427.5 488.9 426.5 489.6 425.5 490.2C424.5 490.8 423.4 491.3 422.4 491.7C421.4 492.1 420.4 492.4 419.4 492.7C418.4 492.9 417.4 493.1 416.4 493.1C415.4 493.2 414.5 493.1 413.6 493C412.7 492.9 411.8 492.7 410.9 492.4C410.1 492 409.3 491.6 408.5 491.1C407.8 490.7 407 490.1 406.4 489.4C405.7 488.8 405.1 488 404.6 487.2C404 486.4 403.6 485.5 403.2 484.6C402.7 483.7 402.4 482.6 402.1 481.6C401.8 480.5 401.6 479.4 401.5 478.2C401.3 477.1 401.3 475.8 401.3 474.6C401.3 473.4 401.3 472.1 401.5 470.8C401.6 469.5 401.8 468.2 402.1 466.9C402.4 465.6 402.8 464.2 403.2 462.9C403.6 461.6 404.1 460.3 404.6 459C405.1 457.7 405.8 456.4 406.4 455.1C407.1 453.9 408.2 452.1 408.5 451.5" fill="none" stroke="#222" stroke-width="1.3" />
<path d="M399.7 452.7C400 452.1 401 450.3 401.6 449.2C402.3 448 403 446.9 403.8 445.7C404.5 444.6 405.3 443.5 406.1 442.5C406.9 441.4 407.7 440.4 408.5 439.4C409.4 438.5 410.3 437.5 411.1 436.6C412 435.7 412.9 434.9 413.9 434.1C414.8 433.2 415.7 432.5 416.7 431.8C417.6 431.1 418.6 430.4 419.6 429.8C420.5 429.2 421.5 428.6 422.5 428.1C423.4 427.7 424.4 427.2 425.4 426.8C426.4 426.5 427.4 426.1 428.3 425.9C429.3 425.6 430.2 425.4 431.2 425.3C432.1 425.1 433.1 425 434 425C434.9 425 435.8 425 436.7 425.1C437.6 425.2 438.4 425.4 439.3 425.6C440.1 425.8 441.3 426.3 441.7 426.5" fill="none" stroke="#222" stroke-width="1.3" />
<ellipse cx="448" cy="466.6" rx="1.3" ry="1.6" fill="none" stroke="#222" stroke-width="1.04" transform="rotate(20 448 466.6)" />
<ellipse cx="426.1" cy="495.5" rx="1.3" ry="1.6" fill="none" stroke="#222" stroke-width="1.04" transform="rotate(20 426.1 495.5)" />
<ellipse cx="402.4" cy="492" rx="1.3" ry="1.6" fill="none" stroke="#222" stroke-width="1.04" transform="rotate(20 402.4 492)" />
<ellipse cx="426.1" cy="432.4" rx="1.3" ry="1.6" fill="none" stroke="#222" stroke-width="1.04" transform="rotate(20 426.1 432.4)" />
<line x1="427.8" y1="434.2" x2="436.2" y2="438" stroke="#222" stroke-width="1.17" />
<path d="M391 466.6 L396.3 460.4 L392.8 458.7 L398 453.4 L394.9 451.7 L400.1 446.9 L397.1 445.2 L402.4 441.2 L399.8 439.4 L405 435.9" fill="none" stroke="#222" stroke-width="1.17" />
<path d="M396.3 457.8 L399.8 459.6 L398.9 452.6 L402.4 453.4 L401.5 445.9 L404.7 447.3" fill="none" stroke="#222" stroke-width="1.04" />
<line x1="457.4" y1="396.7" x2="449.6" y2="419" stroke="#222" stroke-width="1.3" />
<path d="M380 480 L455 431.3 L461 430 L468.5 432 L476.1 437.3 L482.5 446 L485.2 455.7 L485.2 465.4 L483.6 474 L480.5 486 L474.5 482 L477.1 474 L479.3 465.4 L479.8 454.6 L478.2 444.9 L473.9 436.8 L467.4 433.2 L458 434.6 L451 439.2 L384 484Z" fill="#fff" stroke="none" stroke-width="0.0" />
<path d="M223 583.8C221.4 585.2 216.2 588.9 213.6 592.2C210.9 595.5 208.3 599.7 207.1 603.4C205.9 607.1 205.7 611.5 206.2 614.6C206.7 617.7 207.7 620.2 209.9 622C212.1 623.8 216.7 625.1 219.2 625.4C221.7 625.7 223.9 624.1 224.8 623.9" fill="none" stroke="#222" stroke-width="1.3" />
<path d="M229.5 584.7C227.5 586.6 220.2 592.2 217.4 595.9C214.6 599.6 213.5 603.4 212.7 607.1C211.9 610.8 212.1 615.8 212.7 618.3C213.3 620.8 214.9 621.8 216.5 622.3C218.1 622.8 221.1 621.2 222 621" fill="none" stroke="#222" stroke-width="1.3" />
<path d="M223 583.8 L420 453.5 L455 431.3" fill="none" stroke="#222" stroke-width="1.3" stroke-dasharray="44 2.5 2.5 2.5"/>
<path d="M455 431.3C456 431.1 458.8 429.9 461 430C463.2 430.1 466 430.8 468.5 432C471 433.2 473.8 435 476.1 437.3C478.4 439.6 481 442.9 482.5 446C484 449.1 484.8 452.5 485.2 455.7C485.6 458.9 485.5 462.3 485.2 465.4C484.9 468.4 484.4 470.6 483.6 474C482.8 477.4 481 484 480.5 486" fill="none" stroke="#222" stroke-width="1.3" />
<path d="M229.5 584.7 L420 460 L451 439.2" fill="none" stroke="#222" stroke-width="1.3" stroke-dasharray="44 2.5 2.5 2.5"/>
<path d="M451 439.2C452.2 438.4 455.3 435.6 458 434.6C460.7 433.6 464.8 432.8 467.4 433.2C470 433.6 472.1 434.9 473.9 436.8C475.7 438.8 477.2 441.9 478.2 444.9C479.2 447.9 479.6 451.2 479.8 454.6C480 458 479.8 462.2 479.3 465.4C478.9 468.6 477.9 471.2 477.1 474C476.3 476.8 474.9 480.7 474.5 482" fill="none" stroke="#222" stroke-width="1.3" />
<path d="M392 475.5 L441 443" fill="none" stroke="#222" stroke-width="1.04" stroke-dasharray="14 3 2 3"/>
<path d="M224.8 623.9 L325.5 578.2" fill="none" stroke="#222" stroke-width="1.3" stroke-dasharray="44 2.5 2.5 2.5"/>
<path d="M222 621 L323.6 573.6" fill="none" stroke="#222" stroke-width="1.3" stroke-dasharray="44 2.5 2.5 2.5"/>
<path d="M399.6 537.1 L452.7 510.1 L458 508" fill="none" stroke="#222" stroke-width="1.3" />
<path d="M400.5 542.7 L454.6 515.7 L462.5 513.6" fill="none" stroke="#222" stroke-width="1.3" />
<line x1="444.3" y1="442.9" x2="496.1" y2="472.9" stroke="#222" stroke-width="1.3" />
<path d="M472.7 511.7 L472.3 513.6 L471.6 513.8 L471 512.2 L470.5 512.3 L469.8 514.1 L469.2 514.2 L468.8 512.4 L468.3 512.3 L467.3 514 L466.8 513.8 L466.7 511.9 L466.2 511.7 L465.1 513.2 L464.5 512.8 L464.8 510.9 L464.3 510.6 L463 511.7 L462.6 511.2 L463.1 509.3 L462.7 508.9 L461.3 509.6 L461 509.1 L461.8 507.3 L461.5 506.7 L460.1 507.1 L459.8 506.4 L460.8 504.8 L460.7 504.2 L459.2 504.2 L459.1 503.4 L460.3 502.1 L460.3 501.4 L458.9 501 L458.9 500.2 L460.2 499.2 L460.3 498.5 L459.1 497.7 L459.2 496.9 L460.6 496.3 L460.8 495.5 L459.7 494.4 L460 493.6 L461.4 493.4 L461.7 492.7 L460.9 491.3 L461.2 490.5 L462.7 490.7 L463 490.1 L462.5 488.4 L462.9 487.8 L464.2 488.3 L464.7 487.8 L464.4 486 L464.9 485.4 L466.1 486.4 L466.6 485.9 L466.6 484 L467.2 483.6 L468.1 484.9 L468.7 484.6 L469 482.7 L469.6 482.4 L470.3 484 L470.9 483.8 L471.5 481.9 L472.1 481.9 L472.5 483.6 L473.1 483.6 L474.3 482.1 L479.9 484.2 L482.4 490.6 L485.9 494.7 L489.6 497.6 L489.1 501.5 L484.3 504.1 L481.5 509.2 L477.8 513.3 L472.6 514.4Z" fill="#fff" stroke="#222" stroke-width="1.17" />
<path d="M471.3 511.1C471.1 511.1 470.3 511.3 469.8 511.2C469.3 511.2 468.8 511.2 468.3 511C467.9 510.9 467.4 510.8 467 510.5C466.5 510.3 466.1 510 465.7 509.7C465.3 509.4 464.9 509 464.5 508.6C464.2 508.2 463.9 507.7 463.6 507.2C463.3 506.7 463 506.2 462.8 505.6C462.6 505 462.4 504.4 462.3 503.8C462.1 503.2 462 502.5 462 501.9C461.9 501.2 461.9 500.5 461.9 499.9C461.9 499.2 462 498.5 462 497.8C462.1 497.1 462.3 496.4 462.4 495.7C462.6 495 462.8 494.4 463.1 493.7C463.3 493 463.6 492.4 463.9 491.8C464.2 491.2 464.5 490.6 464.9 490C465.3 489.5 465.7 489 466.1 488.5C466.5 488 467 487.6 467.4 487.2C467.9 486.8 468.4 486.4 468.8 486.1C469.3 485.8 469.8 485.5 470.3 485.3C470.8 485.1 471.6 485 471.9 484.9" fill="none" stroke="#222" stroke-width="1.04" />
<ellipse cx="473.8" cy="492.3" rx="2.5" ry="3.3" fill="#fff" stroke="#222" stroke-width="1.17" transform="rotate(14 473.8 492.3)" />
<ellipse cx="468.1" cy="492.6" rx="1.4" ry="1.8" fill="#fff" stroke="#222" stroke-width="1.17" transform="rotate(14 468.1 492.6)" />
<ellipse cx="467" cy="501.2" rx="1.6" ry="2.1" fill="#fff" stroke="#222" stroke-width="1.17" transform="rotate(14 467 501.2)" />
<ellipse cx="471.2" cy="504.7" rx="1.4" ry="1.9" fill="#777" stroke="#222" stroke-width="1.17" transform="rotate(14 471.2 504.7)" />
<ellipse cx="479.1" cy="499.9" rx="1.5" ry="2" fill="#777" stroke="#222" stroke-width="1.17" transform="rotate(14 479.1 499.9)" />
<ellipse cx="473.8" cy="492.4" rx="1.5" ry="1.9" fill="none" stroke="#222" stroke-width="1.04" transform="rotate(14 473.8 492.4)" />
<path d="M497.7 475.3C498.2 473.7 499.6 471.6 501.4 470.8C503.2 469.9 507.6 469.5 508.6 469.9C509.5 470.4 505.9 473.2 506.9 473.7C508 474.1 512.3 472.6 514.7 472.7C517.1 472.8 519.3 473.2 521.2 474C523 474.8 524.5 477 526 477.7C527.5 478.5 529.4 477.8 530.4 478.5C531.4 479.2 531.8 480.7 532 482.1C532.2 483.5 531.9 485.4 531.4 486.9C530.8 488.4 530 490.5 528.8 491.1C527.5 491.8 525.3 491.7 524.1 491C522.9 490.3 522.2 488.4 521.5 486.9C520.7 485.4 520.7 483.4 519.5 482.1C518.4 480.7 516.6 479.3 514.7 478.8C512.7 478.4 509.4 478.6 507.9 479.2C506.4 479.7 507.1 481.3 505.8 482.1C504.5 482.8 501.4 484 500.1 483.7C498.9 483.4 498.6 481.5 498.2 480.1C497.8 478.7 497.2 476.9 497.7 475.3Z" fill="#fff" stroke="#222" stroke-width="1.3" />
<path d="M497.7 475.3 L505.8 474.5 L506.9 473.7" fill="none" stroke="#222" stroke-width="1.17" />
<path d="M505.8 474.5 L507.9 479.2" fill="none" stroke="#222" stroke-width="1.17" />
<ellipse cx="502.6" cy="478" rx="1.6" ry="2.1" fill="none" stroke="#222" stroke-width="1.17" transform="rotate(15 502.6 478)" />
<ellipse cx="527" cy="485" rx="2" ry="3" fill="none" stroke="#222" stroke-width="1.17" transform="rotate(15 527 485)" />
<path d="M523.6 478.5C523.4 479.3 522.4 481.3 522.5 483.4C522.5 485.4 523.8 489.7 524.1 491" fill="none" stroke="#222" stroke-width="1.17" />
<ellipse cx="534.4" cy="497.1" rx="1.6" ry="3.1" fill="#fff" stroke="#222" stroke-width="1.3" transform="rotate(24.4 534.4 497.1)" />
<path d="M533.1 500 L551.8 508.4 L554.4 502.8 L535.7 494.3Z" fill="#fff" stroke="none" stroke-width="0.0" />
<line x1="533.1" y1="500" x2="551.8" y2="508.4" stroke="#222" stroke-width="1.3" />
<line x1="535.7" y1="494.3" x2="554.4" y2="502.8" stroke="#222" stroke-width="1.3" />
<ellipse cx="553.1" cy="505.6" rx="1.6" ry="3.1" fill="#fff" stroke="#222" stroke-width="1.3" transform="rotate(24.4 553.1 505.6)" />
<line x1="532.7" y1="499.8" x2="536.7" y2="494.8" stroke="#222" stroke-width="1.1" />
<line x1="534.1" y1="500.4" x2="538.1" y2="495.4" stroke="#222" stroke-width="1.1" />
<line x1="535.6" y1="501.1" x2="539.6" y2="496.1" stroke="#222" stroke-width="1.1" />
<line x1="537" y1="501.7" x2="541" y2="496.7" stroke="#222" stroke-width="1.1" />
<line x1="538.4" y1="502.4" x2="542.5" y2="497.4" stroke="#222" stroke-width="1.1" />
<line x1="539.9" y1="503" x2="543.9" y2="498" stroke="#222" stroke-width="1.1" />
<line x1="544.5" y1="505.1" x2="548.5" y2="500.1" stroke="#222" stroke-width="1.1" />
<line x1="545.9" y1="505.7" x2="549.9" y2="500.7" stroke="#222" stroke-width="1.1" />
<line x1="547.2" y1="506.4" x2="551.3" y2="501.4" stroke="#222" stroke-width="1.1" />
<line x1="548.6" y1="507" x2="552.6" y2="502" stroke="#222" stroke-width="1.1" />
<line x1="550" y1="507.6" x2="554" y2="502.6" stroke="#222" stroke-width="1.1" />
<path d="M564.9 506.2C566.4 506.2 569.1 506.5 570.1 507.4C571.2 508.2 571.2 509.9 571.1 511.4C571 512.8 570.5 514.8 569.7 516.1C569 517.5 567.6 518.7 566.5 519.4C565.5 520 564.4 520.1 563.3 519.8C562.3 519.6 561 518.8 560.1 517.8C559.3 516.7 558.6 515.1 558.4 513.8C558.2 512.4 558.5 510.9 559 509.8C559.4 508.6 560.3 507.6 561.3 507C562.3 506.4 563.5 506.1 564.9 506.2Z" fill="#fff" stroke="#222" stroke-width="1.3" />
<path d="M561.3 507.2 L560.7 512.6 L560.1 517.6" fill="none" stroke="#222" stroke-width="1.04" />
<path d="M559 509.9 L560.7 512.6" fill="none" stroke="#222" stroke-width="0.91" />
<ellipse cx="566.3" cy="513" rx="4.4" ry="6.3" fill="#fff" stroke="#222" stroke-width="1.17" transform="rotate(15 566.3 513)" />
<ellipse cx="566.3" cy="513.2" rx="2.9" ry="3.9" fill="none" stroke="#222" stroke-width="1.04" transform="rotate(15 566.3 513.2)" />
<ellipse cx="566.3" cy="513.4" rx="1.9" ry="2.6" fill="none" stroke="#222" stroke-width="1.04" transform="rotate(15 566.3 513.4)" />
<path d="M497.9 513 L591.8 566.2 L596.2 558.2 L502.3 505Z" fill="#fff" stroke="none" stroke-width="0.0" />
<line x1="497.9" y1="513" x2="591.8" y2="566.2" stroke="#222" stroke-width="1.3" />
<line x1="502.3" y1="505" x2="596.2" y2="558.2" stroke="#222" stroke-width="1.3" />
<ellipse cx="501.5" cy="509.8" rx="1.9" ry="4.5" fill="#fff" stroke="#222" stroke-width="1.3" transform="rotate(29.5 501.5 509.8)" />
<path d="M499.2 513.7 L501.3 514.9 L505.8 507 L503.7 505.8Z" fill="#fff" stroke="none" stroke-width="0.0" />
<path d="M505.1 506.6C505.2 506.7 505.3 506.7 505.4 506.8C505.5 506.9 505.5 507 505.6 507.2C505.6 507.3 505.6 507.5 505.7 507.6C505.7 507.8 505.7 508 505.7 508.2C505.7 508.3 505.6 508.5 505.6 508.8C505.6 509 505.5 509.2 505.4 509.4C505.4 509.6 505.3 509.9 505.2 510.1C505.1 510.3 505 510.6 504.9 510.8C504.8 511.1 504.7 511.3 504.5 511.5C504.4 511.7 504.3 512 504.1 512.2C504 512.4 503.8 512.6 503.7 512.8C503.5 513 503.4 513.2 503.2 513.4C503 513.5 502.9 513.7 502.7 513.8C502.6 514 502.4 514.1 502.2 514.2C502.1 514.3 501.9 514.4 501.8 514.5C501.6 514.5 501.5 514.6 501.3 514.6C501.2 514.6 501.1 514.7 501 514.6C500.8 514.6 500.7 514.6 500.6 514.5" fill="none" stroke="#222" stroke-width="1.17" />
<path d="M507.6 508C507.6 508 507.8 508.1 507.8 508.2C507.9 508.3 508 508.4 508 508.6C508.1 508.7 508.1 508.9 508.1 509C508.1 509.2 508.1 509.4 508.1 509.5C508.1 509.7 508.1 509.9 508.1 510.1C508 510.4 508 510.6 507.9 510.8C507.8 511 507.8 511.3 507.7 511.5C507.6 511.7 507.5 512 507.4 512.2C507.3 512.4 507.1 512.7 507 512.9C506.9 513.1 506.7 513.4 506.6 513.6C506.4 513.8 506.3 514 506.1 514.2C506 514.4 505.8 514.6 505.7 514.8C505.5 514.9 505.3 515.1 505.2 515.2C505 515.4 504.8 515.5 504.7 515.6C504.5 515.7 504.4 515.8 504.2 515.9C504.1 515.9 503.9 516 503.8 516C503.7 516 503.5 516 503.4 516C503.3 516 503.2 515.9 503.1 515.9" fill="none" stroke="#222" stroke-width="1.17" />
<path d="M510 509.4C510.1 509.4 510.2 509.5 510.3 509.6C510.4 509.7 510.4 509.8 510.5 510C510.5 510.1 510.6 510.2 510.6 510.4C510.6 510.6 510.6 510.7 510.6 510.9C510.6 511.1 510.6 511.3 510.5 511.5C510.5 511.8 510.4 512 510.4 512.2C510.3 512.4 510.2 512.7 510.1 512.9C510 513.1 509.9 513.4 509.8 513.6C509.7 513.8 509.6 514.1 509.5 514.3C509.3 514.5 509.2 514.8 509 515C508.9 515.2 508.8 515.4 508.6 515.6C508.4 515.8 508.3 516 508.1 516.2C508 516.3 507.8 516.5 507.6 516.6C507.5 516.8 507.3 516.9 507.2 517C507 517.1 506.8 517.2 506.7 517.3C506.5 517.3 506.4 517.4 506.3 517.4C506.1 517.4 506 517.4 505.9 517.4C505.8 517.4 505.6 517.3 505.6 517.3" fill="none" stroke="#222" stroke-width="1.17" />
<path d="M512.5 510.8C512.5 510.8 512.7 510.9 512.8 511C512.8 511.1 512.9 511.2 512.9 511.4C513 511.5 513 511.6 513 511.8C513.1 512 513.1 512.1 513 512.3C513 512.5 513 512.7 513 512.9C512.9 513.1 512.9 513.4 512.8 513.6C512.8 513.8 512.7 514.1 512.6 514.3C512.5 514.5 512.4 514.8 512.3 515C512.2 515.2 512.1 515.5 511.9 515.7C511.8 515.9 511.7 516.2 511.5 516.4C511.4 516.6 511.2 516.8 511.1 517C510.9 517.2 510.7 517.4 510.6 517.6C510.4 517.7 510.3 517.9 510.1 518C509.9 518.2 509.8 518.3 509.6 518.4C509.5 518.5 509.3 518.6 509.1 518.7C509 518.7 508.9 518.8 508.7 518.8C508.6 518.8 508.5 518.8 508.3 518.8C508.2 518.8 508.1 518.7 508 518.7" fill="none" stroke="#222" stroke-width="1.17" />
<path d="M515 512.2C515 512.2 515.1 512.3 515.2 512.4C515.3 512.5 515.3 512.6 515.4 512.7C515.4 512.9 515.5 513 515.5 513.2C515.5 513.4 515.5 513.5 515.5 513.7C515.5 513.9 515.5 514.1 515.4 514.3C515.4 514.5 515.3 514.8 515.3 515C515.2 515.2 515.1 515.4 515 515.7C515 515.9 514.9 516.2 514.7 516.4C514.6 516.6 514.5 516.9 514.4 517.1C514.2 517.3 514.1 517.5 514 517.8C513.8 518 513.7 518.2 513.5 518.4C513.4 518.6 513.2 518.8 513 518.9C512.9 519.1 512.7 519.3 512.5 519.4C512.4 519.6 512.2 519.7 512.1 519.8C511.9 519.9 511.8 520 511.6 520C511.5 520.1 511.3 520.2 511.2 520.2C511 520.2 510.9 520.2 510.8 520.2C510.7 520.2 510.5 520.1 510.5 520.1" fill="none" stroke="#222" stroke-width="1.17" />
<path d="M600.9 556.8 L596.7 557.6 L593 562.5 L591.4 568.5 L592.2 571.4 L597.5 574.2 L601.7 575.8Z" fill="#fff" stroke="none" stroke-width="0.0" />
<path d="M600.9 556.8C600.2 556.9 598 556.7 596.7 557.6C595.4 558.5 593.9 560.7 593 562.5C592.1 564.3 591.5 567 591.4 568.5C591.3 570 591.2 570.5 592.2 571.4C593.2 572.4 595.9 573.5 597.5 574.2C599.1 574.9 601 575.5 601.7 575.8" fill="none" stroke="#222" stroke-width="1.3" />
<line x1="596.7" y1="557.9" x2="594.3" y2="567.3" stroke="#222" stroke-width="1.04" />
<line x1="591.8" y1="568.1" x2="597.9" y2="570.6" stroke="#222" stroke-width="1.04" />
<ellipse cx="603.5" cy="567.2" rx="5" ry="8.3" fill="#fff" stroke="#222" stroke-width="1.3" transform="rotate(25 603.5 567.2)" />
<line x1="519.5" y1="451.8" x2="519.5" y2="472.9" stroke="#222" stroke-width="1.3" />
<line x1="552.7" y1="471.2" x2="545.4" y2="497.9" stroke="#222" stroke-width="1.3" />
<line x1="580.6" y1="487.9" x2="568.8" y2="506.9" stroke="#222" stroke-width="1.3" />
<line x1="536.7" y1="536" x2="526.2" y2="554.6" stroke="#222" stroke-width="1.3" />
<path d="M373 105.8 L375.4 101.5 L380.3 100.3 L383.4 102.1 L383.4 116.9 L380.3 118.9 L376.7 117.3 L373.4 113Z" fill="#fff" stroke="#222" stroke-width="1.3" />
<line x1="375.4" y1="101.5" x2="376.2" y2="117" stroke="#222" stroke-width="1.04" />
<line x1="380.3" y1="100.3" x2="380.6" y2="118.7" stroke="#222" stroke-width="1.04" />
<ellipse cx="385.2" cy="109.4" rx="6.7" ry="8.7" fill="#fff" stroke="#222" stroke-width="1.3" transform="rotate(18 385.2 109.4)" />
<ellipse cx="385.8" cy="110" rx="3.4" ry="4.6" fill="#888" stroke="#222" stroke-width="1.17" transform="rotate(18 385.8 110)" />
<path d="M400.8 142.9 L400.2 144.8 L399.6 144.9 L399.2 143.1 L398.6 143.1 L397.8 144.9 L397.2 144.8 L397 143 L396.5 142.8 L395.4 144.3 L394.9 144.1 L395 142.2 L394.6 141.9 L393.3 143.1 L392.8 142.7 L393.3 140.8 L392.9 140.4 L391.5 141.3 L391.1 140.7 L391.8 138.9 L391.5 138.4 L390.1 138.9 L389.8 138.2 L390.8 136.6 L390.6 136 L389.1 136.1 L389 135.4 L390.1 133.9 L390 133.2 L388.7 133 L388.6 132.2 L389.9 131.1 L390 130.3 L388.7 129.7 L388.8 128.9 L390.2 128.1 L390.3 127.4 L389.3 126.4 L389.5 125.5 L390.9 125.2 L391.2 124.5 L390.3 123.1 L390.6 122.4 L392 122.4 L392.4 121.7 L391.8 120.1 L392.2 119.4 L393.5 119.9 L393.9 119.3 L393.6 117.5 L394.1 116.9 L395.3 117.8 L395.8 117.3 L395.8 115.4 L396.4 114.9 L397.3 116.1 L397.9 115.8 L398.1 113.8 L398.8 113.5 L399.5 115 L400.1 114.8 L400.6 112.9 L401.2 112.8 L401.7 114.5 L402.3 114.5 L403.1 112.7 L403.7 112.7 L403.9 114.6 L404.4 114.7 L405.4 113.1 L406 113.4 L405.9 115.3 L406.4 115.6 L411.9 114.6 L413.1 120.3 L416.7 125.2 L421.6 127.6 L421.2 131.2 L416.7 134.3 L412.5 138.5 L409.1 143.4 L404.6 144.8Z" fill="#fff" stroke="#222" stroke-width="1.17" />
<path d="M399.7 142C399.4 142 398.6 142 398.1 141.9C397.6 141.8 397.1 141.6 396.6 141.4C396.1 141.1 395.7 140.9 395.2 140.5C394.8 140.2 394.4 139.8 394.1 139.3C393.7 138.9 393.4 138.4 393.1 137.8C392.8 137.3 392.5 136.7 392.3 136.1C392.1 135.4 391.9 134.8 391.8 134.1C391.7 133.4 391.6 132.7 391.6 132C391.6 131.3 391.6 130.5 391.6 129.8C391.7 129 391.8 128.3 392 127.5C392.1 126.8 392.3 126.1 392.6 125.3C392.8 124.6 393.1 123.9 393.4 123.2C393.7 122.6 394.1 121.9 394.4 121.3C394.8 120.7 395.2 120.1 395.7 119.6C396.1 119 396.6 118.6 397.1 118.1C397.6 117.7 398.1 117.3 398.6 117C399.1 116.6 399.7 116.4 400.2 116.1C400.8 115.9 401.3 115.8 401.8 115.7C402.4 115.6 402.9 115.6 403.4 115.6C404 115.6 404.7 115.9 405 115.9" fill="none" stroke="#222" stroke-width="1.04" />
<ellipse cx="406.4" cy="122.5" rx="2.6" ry="3.5" fill="#fff" stroke="#222" stroke-width="1.17" transform="rotate(15 406.4 122.5)" />
<ellipse cx="399.7" cy="123.4" rx="1.5" ry="2" fill="#fff" stroke="#222" stroke-width="1.17" transform="rotate(15 399.7 123.4)" />
<ellipse cx="398.1" cy="132.7" rx="1.7" ry="2.2" fill="#fff" stroke="#222" stroke-width="1.17" transform="rotate(15 398.1 132.7)" />
<ellipse cx="403" cy="135.5" rx="1.6" ry="2.1" fill="#777" stroke="#222" stroke-width="1.17" transform="rotate(15 403 135.5)" />
<ellipse cx="411" cy="130.6" rx="1.6" ry="2.1" fill="#777" stroke="#222" stroke-width="1.17" transform="rotate(15 411 130.6)" />
<ellipse cx="406.6" cy="122.8" rx="1.6" ry="2.2" fill="none" stroke="#222" stroke-width="1.04" transform="rotate(15 406.6 122.8)" />
<ellipse cx="433.1" cy="140.3" rx="9.5" ry="14.8" fill="#fff" stroke="#222" stroke-width="1.3" transform="rotate(18 433.1 140.3)" />
<ellipse cx="434.5" cy="140.7" rx="9.1" ry="14.2" fill="#fff" stroke="#222" stroke-width="1.17" transform="rotate(18 434.5 140.7)" />
<ellipse cx="437" cy="141.2" rx="7.5" ry="12.1" fill="#fff" stroke="#222" stroke-width="1.17" transform="rotate(18 437 141.2)" />
<ellipse cx="441.3" cy="141.9" rx="7.3" ry="11.9" fill="#fff" stroke="#222" stroke-width="1.3" transform="rotate(18 441.3 141.9)" />
<ellipse cx="442.8" cy="142.4" rx="7.3" ry="11.9" fill="#fff" stroke="#222" stroke-width="1.3" transform="rotate(18 442.8 142.4)" />
<ellipse cx="443.5" cy="142.9" rx="5.3" ry="8.5" fill="#fff" stroke="#222" stroke-width="1.17" transform="rotate(18 443.5 142.9)" />
<ellipse cx="446.4" cy="145.3" rx="4.9" ry="6.6" fill="#fff" stroke="#222" stroke-width="1.3" transform="rotate(18 446.4 145.3)" />
<ellipse cx="447.3" cy="145.8" rx="2.9" ry="3.9" fill="#fff" stroke="#222" stroke-width="1.17" transform="rotate(18 447.3 145.8)" />
<ellipse cx="461.4" cy="153.1" rx="7.8" ry="10.8" fill="#fff" stroke="#222" stroke-width="1.3" transform="rotate(22 461.4 153.1)" />
<ellipse cx="463" cy="154" rx="7.6" ry="10.6" fill="#fff" stroke="#222" stroke-width="2.08" transform="rotate(22 463 154)" />
<ellipse cx="463.6" cy="154.4" rx="5" ry="7.6" fill="#fff" stroke="#222" stroke-width="1.17" transform="rotate(22 463.6 154.4)" />
<ellipse cx="480.6" cy="165" rx="8.2" ry="12.4" fill="#fff" stroke="#222" stroke-width="1.3" transform="rotate(24 480.6 165)" />
<path d="M475.6 176.3 L480.6 179.1 L490.6 156.5 L485.6 153.7Z" fill="#fff" stroke="none" stroke-width="0.0" />
<line x1="475.6" y1="176.3" x2="480.6" y2="179.1" stroke="#222" stroke-width="1.3" />
<line x1="485.6" y1="153.7" x2="490.6" y2="156.5" stroke="#222" stroke-width="1.3" />
<ellipse cx="485.6" cy="167.8" rx="8.2" ry="12.4" fill="#fff" stroke="#222" stroke-width="1.3" transform="rotate(24 485.6 167.8)" />
<ellipse cx="485.9" cy="168" rx="5.9" ry="9" fill="none" stroke="#222" stroke-width="1.17" transform="rotate(24 485.9 168)" />
<ellipse cx="486.1" cy="168.1" rx="3.8" ry="5.8" fill="none" stroke="#222" stroke-width="1.17" transform="rotate(24 486.1 168.1)" />
<ellipse cx="486.2" cy="168.2" rx="1.8" ry="2.8" fill="none" stroke="#222" stroke-width="1.04" transform="rotate(24 486.2 168.2)" />
<ellipse cx="499.6" cy="176.2" rx="4.6" ry="7.4" fill="#fff" stroke="#222" stroke-width="1.3" transform="rotate(29.2 499.6 176.2)" />
<path d="M503.2 169.7 L546.2 193.7 L539 206.7 L496 182.7Z" fill="#fff" stroke="none" stroke-width="0.0" />
<line x1="503.2" y1="169.7" x2="546.2" y2="193.7" stroke="#222" stroke-width="1.3" />
<line x1="496" y1="182.7" x2="539" y2="206.7" stroke="#222" stroke-width="1.3" />
<ellipse cx="542.6" cy="200.2" rx="4.6" ry="7.4" fill="#fff" stroke="#222" stroke-width="1.3" transform="rotate(29.2 542.6 200.2)" />
<ellipse cx="543.2" cy="200.5" rx="2.9" ry="4.9" fill="none" stroke="#222" stroke-width="1.17" transform="rotate(29.2 543.2 200.5)" />
<ellipse cx="543.7" cy="200.7" rx="1.4" ry="2.4" fill="none" stroke="#222" stroke-width="1.04" transform="rotate(29.2 543.7 200.7)" />
<line x1="300.5" y1="78" x2="297.3" y2="93.9" stroke="#222" stroke-width="1.3" />
<ellipse cx="288.8" cy="102.4" rx="6" ry="9.2" fill="#fff" stroke="#222" stroke-width="1.3" transform="rotate(20 288.8 102.4)" />
<path d="M285.6 111 L292.7 113.8 L299.3 95.4 L292 93.8Z" fill="#fff" stroke="none" stroke-width="0.0" />
<line x1="285.6" y1="111" x2="292.7" y2="113.8" stroke="#222" stroke-width="1.3" />
<line x1="292" y1="93.8" x2="299.3" y2="95.4" stroke="#222" stroke-width="1.3" />
<line x1="285.8" y1="97.5" x2="290.6" y2="98.9" stroke="#222" stroke-width="1.04" />
<line x1="286.8" y1="100.9" x2="291.8" y2="102.6" stroke="#222" stroke-width="1.04" />
<line x1="288" y1="104.8" x2="293.1" y2="106.8" stroke="#222" stroke-width="1.04" />
<line x1="289" y1="108.2" x2="294.3" y2="110.4" stroke="#222" stroke-width="1.04" />
<ellipse cx="296" cy="104.6" rx="7" ry="9.8" fill="#fff" stroke="#222" stroke-width="1.3" transform="rotate(20 296 104.6)" />
<ellipse cx="296.2" cy="104.9" rx="3.2" ry="4.4" fill="#888" stroke="#222" stroke-width="1.17" transform="rotate(20 296.2 104.9)" />
<path d="M306.2 137.2 L305.2 138.8 L304.7 138.6 L304.8 136.7 L304.3 136.5 L303.2 137.9 L302.7 137.6 L303.1 135.6 L302.7 135.3 L301.4 136.4 L301 135.9 L301.6 134.1 L301.3 133.6 L299.9 134.3 L299.6 133.8 L300.5 132 L300.2 131.5 L298.9 131.9 L298.7 131.2 L299.7 129.7 L299.6 129 L298.2 129.1 L298.1 128.3 L299.3 127.1 L299.3 126.4 L298 126 L298 125.2 L299.3 124.3 L299.4 123.6 L298.2 122.8 L298.3 122.1 L299.7 121.5 L299.9 120.7 L298.9 119.7 L299.1 118.9 L300.5 118.7 L300.8 118 L300 116.7 L300.3 115.9 L301.7 116.1 L302 115.5 L301.5 113.9 L301.9 113.2 L303.1 113.7 L303.5 113.2 L303.3 111.4 L303.7 110.9 L304.8 111.8 L305.3 111.4 L305.3 109.5 L305.8 109 L306.7 110.2 L307.2 109.9 L307.5 108 L308.1 107.7 L308.7 109.2 L309.3 109 L309.8 107.1 L310.4 107 L310.8 108.7 L311.3 108.7 L312.1 106.9 L312.6 106.9 L312.8 108.8 L313.3 108.9 L314.3 107.3 L314.8 107.5 L314.7 109.4 L315.1 109.6 L316.3 108.3 L316.7 108.6 L316.3 110.5 L316.7 110.9 L319.3 106.2 L321.2 107.8 L322.7 110.1 L323.3 113.3 L325.1 117.3 L329.2 119.8 L332 121.8 L332.6 124.2 L330.8 126.6 L326.7 128.7 L322.7 131.5 L318.6 135.9 L313.8 138.3 L309.8 138.9Z" fill="#fff" stroke="#222" stroke-width="1.17" />
<path d="M305.5 135.5C305.3 135.4 304.7 135 304.3 134.7C303.9 134.4 303.6 134 303.2 133.6C302.9 133.2 302.6 132.7 302.3 132.2C302.1 131.7 301.8 131.2 301.6 130.6C301.4 130 301.3 129.4 301.2 128.8C301 128.1 300.9 127.5 300.9 126.8C300.9 126.1 300.9 125.4 300.9 124.7C300.9 124 301 123.3 301.1 122.6C301.2 121.9 301.4 121.2 301.6 120.5C301.8 119.8 302 119.1 302.3 118.5C302.5 117.8 302.8 117.2 303.2 116.5C303.5 115.9 303.9 115.3 304.2 114.8C304.6 114.2 305 113.7 305.5 113.2C305.9 112.8 306.3 112.3 306.8 111.9C307.3 111.6 307.8 111.2 308.2 110.9C308.7 110.6 309.2 110.4 309.7 110.2C310.2 110.1 310.7 109.9 311.2 109.9C311.7 109.8 312.2 109.8 312.7 109.8C313.2 109.9 313.6 110 314.1 110.1C314.6 110.3 315.2 110.7 315.4 110.8" fill="none" stroke="#222" stroke-width="1.04" />
<ellipse cx="316.7" cy="116.1" rx="2.6" ry="3.5" fill="#fff" stroke="#222" stroke-width="1.17" transform="rotate(15 316.7 116.1)" />
<ellipse cx="310.6" cy="116.9" rx="1.5" ry="2" fill="#fff" stroke="#222" stroke-width="1.17" transform="rotate(15 310.6 116.9)" />
<ellipse cx="308.6" cy="126.2" rx="1.7" ry="2.2" fill="#fff" stroke="#222" stroke-width="1.17" transform="rotate(15 308.6 126.2)" />
<ellipse cx="313.8" cy="129.3" rx="1.6" ry="2.1" fill="#777" stroke="#222" stroke-width="1.17" transform="rotate(15 313.8 129.3)" />
<ellipse cx="321.2" cy="124.6" rx="1.6" ry="2.1" fill="#777" stroke="#222" stroke-width="1.17" transform="rotate(15 321.2 124.6)" />
<ellipse cx="316.7" cy="116.3" rx="1.6" ry="2.3" fill="none" stroke="#222" stroke-width="1.04" transform="rotate(15 316.7 116.3)" />
<clipPath id="cb2"><path d="M481 280.5 L536.3 249 L611 249 L611 399 L481 399Z"/></clipPath><g clip-path="url(#cb2)">
<path d="M528.3 399.6C528.5 397.3 527.4 390.7 529.1 385.9C530.8 381 534.5 374.4 538.3 370.5C542.1 366.7 547.5 363.9 552.1 362.9C556.7 361.9 562.3 362.9 565.9 364.4C569.4 365.9 572.1 369.3 573.5 372.1C575 374.9 574.8 378.7 574.6 381.3C574.3 383.8 572.4 386.4 572 387.4" fill="none" stroke="#222" stroke-width="1.17" />
<path d="M545.2 399.6C545.6 397.8 545.8 392 547.5 388.9C549.1 385.8 552.3 383 555.1 381.3C557.9 379.5 561.7 378.1 564.3 378.2C566.9 378.2 569.5 380 570.8 381.6C572 383.1 571.8 386.4 572 387.4" fill="none" stroke="#222" stroke-width="1.17" />
<path d="M582.7 399.6C583.5 398.4 586 394.8 587.3 392C588.6 389.2 589.1 385 590.4 382.8C591.6 380.6 593.4 379.2 595 379C596.5 378.7 598.8 380.9 599.5 381.3" fill="none" stroke="#222" stroke-width="1.17" />
<path d="M585.8 399.6C586.6 398.4 589.4 394.4 590.7 392C591.9 389.6 592.2 386.6 593.1 385.1C594 383.5 595.7 383.2 596.2 382.8" fill="none" stroke="#222" stroke-width="1.17" />
<path d="M572 388.1 L583.5 394.3 L581.9 396.6 L570.8 390.8" fill="none" stroke="#222" stroke-width="1.17" />
<line x1="514.5" y1="362.9" x2="532.9" y2="399.6" stroke="#222" stroke-width="2.47" stroke-linecap="butt"/>
<line x1="514.5" y1="362.9" x2="532.9" y2="399.6" stroke="#fff" stroke-width="0.72" stroke-linecap="butt"/>
<line x1="509.2" y1="380.5" x2="539.8" y2="379.7" stroke="#222" stroke-width="2.47" stroke-linecap="butt"/>
<line x1="509.2" y1="380.5" x2="539.8" y2="379.7" stroke="#fff" stroke-width="0.72" stroke-linecap="butt"/>
<line x1="507.7" y1="384.3" x2="529.1" y2="399.6" stroke="#222" stroke-width="2.47" stroke-linecap="butt"/>
<line x1="507.7" y1="384.3" x2="529.1" y2="399.6" stroke="#fff" stroke-width="0.72" stroke-linecap="butt"/>
<line x1="534.5" y1="359.8" x2="579.6" y2="396.6" stroke="#222" stroke-width="2.47" stroke-linecap="butt"/>
<line x1="534.5" y1="359.8" x2="579.6" y2="396.6" stroke="#fff" stroke-width="0.72" stroke-linecap="butt"/>
<line x1="541.4" y1="358.3" x2="572" y2="387.4" stroke="#222" stroke-width="2.47" stroke-linecap="butt"/>
<line x1="541.4" y1="358.3" x2="572" y2="387.4" stroke="#fff" stroke-width="0.72" stroke-linecap="butt"/>
<line x1="552.1" y1="347.6" x2="539.8" y2="387.4" stroke="#222" stroke-width="2.47" stroke-linecap="butt"/>
<line x1="552.1" y1="347.6" x2="539.8" y2="387.4" stroke="#fff" stroke-width="0.72" stroke-linecap="butt"/>
<line x1="552.1" y1="347.6" x2="568.9" y2="399.6" stroke="#222" stroke-width="2.47" stroke-linecap="butt"/>
<line x1="552.1" y1="347.6" x2="568.9" y2="399.6" stroke="#fff" stroke-width="0.72" stroke-linecap="butt"/>
<line x1="593.4" y1="326.1" x2="602.9" y2="381.3" stroke="#222" stroke-width="2.47" stroke-linecap="butt"/>
<line x1="593.4" y1="326.1" x2="602.9" y2="381.3" stroke="#fff" stroke-width="0.72" stroke-linecap="butt"/>
<line x1="610.6" y1="333.8" x2="601.1" y2="381.3" stroke="#222" stroke-width="2.47" stroke-linecap="butt"/>
<line x1="610.6" y1="333.8" x2="601.1" y2="381.3" stroke="#fff" stroke-width="0.72" stroke-linecap="butt"/>
<line x1="610.6" y1="322.3" x2="567.4" y2="370.5" stroke="#222" stroke-width="2.47" stroke-linecap="butt"/>
<line x1="610.6" y1="322.3" x2="567.4" y2="370.5" stroke="#fff" stroke-width="0.72" stroke-linecap="butt"/>
<line x1="605.7" y1="322.3" x2="561.3" y2="364.4" stroke="#222" stroke-width="2.47" stroke-linecap="butt"/>
<line x1="605.7" y1="322.3" x2="561.3" y2="364.4" stroke="#fff" stroke-width="0.72" stroke-linecap="butt"/>
<line x1="599.5" y1="321.5" x2="558.2" y2="361.4" stroke="#222" stroke-width="2.47" stroke-linecap="butt"/>
<line x1="599.5" y1="321.5" x2="558.2" y2="361.4" stroke="#fff" stroke-width="0.72" stroke-linecap="butt"/>
<path d="M595.7 384.3 L599.5 381.3 L607.2 384.3 L609 392 L604.4 397.3 L598 395Z" fill="#fff" stroke="#222" stroke-width="1.3" />
<ellipse cx="603.5" cy="390.4" rx="2.3" ry="2.9" fill="none" stroke="#222" stroke-width="1.17" transform="rotate(15 603.5 390.4)" />
<path d="M560.6 282.9C561 281.1 561.2 274.9 562.8 272.5C564.4 270.1 567 268.3 570.2 268.6C573.4 268.9 578.4 271.6 582.1 274.3C585.8 276.9 590 280.9 592.5 284.6C594.9 288.4 595.9 292.3 596.9 296.5C598 300.8 598.4 307.9 598.7 310.1" fill="none" stroke="#222" stroke-width="1.17" />
<path d="M564.3 271.3C566.8 269.9 573.2 265.1 579.1 262.7C585.1 260.3 594.2 258.2 599.9 256.8C605.6 255.4 611 254.7 613.2 254.3" fill="none" stroke="#222" stroke-width="1.17" />
<path d="M603.6 294.3 L611 291.5" fill="none" stroke="#222" stroke-width="1.17" />
<path d="M558.4 342.5C560.6 340.2 566.8 333.3 571.7 329.1C576.7 324.9 582.3 320.4 588 317.3C593.7 314.2 601.6 312 605.8 310.6C610 309.2 612 309 613.2 308.7" fill="none" stroke="#222" stroke-width="1.3" />
<path d="M560.1 345.7C562.4 343.5 568.6 336.3 573.5 332.1C578.4 327.8 584.2 323.4 589.8 320.2C595.4 317.1 603.4 314.6 607.3 313.1C611.2 311.6 612.2 311.6 613.2 311.3" fill="none" stroke="#222" stroke-width="1.17" />
<path d="M562.1 349.9C564.2 347.6 569.9 340.6 574.7 336.2C579.5 331.9 584.6 327.2 591 323.5C597.4 319.8 609.5 315.6 613.2 314" fill="none" stroke="#222" stroke-width="1.3" />
<path d="M564.3 343.9C566 342.2 570.7 337 574.7 333.6C578.6 330.1 585.8 324.9 588 323.2" fill="none" stroke="#222" stroke-width="1.04" />
<path d="M558.4 342.5 L557.8 345.7 L562.1 349.9" fill="none" stroke="#222" stroke-width="1.3" />
<path d="M570.2 357.3C572.2 355.1 577.6 348.2 582.1 343.9C586.5 339.7 591.7 335.7 596.9 332.1C602.1 328.5 610.5 324.1 613.2 322.5" fill="none" stroke="#222" stroke-width="1.17" />
<path d="M574.7 358.8C576.7 356.7 582.3 350 586.5 346.2C590.7 342.4 595.4 338.9 599.9 335.8C604.3 332.7 611 329 613.2 327.6" fill="none" stroke="#222" stroke-width="1.17" />
<path d="M525.8 308.4C527 303.1 536.1 298.2 542.1 294.3C548 290.3 555.7 287 561.3 284.6C567 282.3 572.7 280.7 576.2 280.2C579.6 279.7 579.9 280 582.1 281.7C584.3 283.4 587.5 287.4 589.5 290.6C591.5 293.8 593 297.7 594 301C594.9 304.2 595.7 307.6 595.4 309.9C595.2 312.1 594.4 312.8 592.5 314.3C590.5 315.8 587.3 316.5 583.6 318.8C579.9 321 574.6 324.1 570.2 327.6C565.9 331.2 561.1 337.6 557.6 339.8C554.2 342 553.3 343.3 549.5 341C545.6 338.7 538.6 331.6 534.6 326.2C530.7 320.7 524.5 313.7 525.8 308.4Z" fill="#fff" stroke="#222" stroke-width="1.3" />
<ellipse cx="541.3" cy="324.4" rx="22.2" ry="7.7" fill="#fff" stroke="#222" stroke-width="1.43" transform="rotate(45 541.3 324.4)" />
<ellipse cx="541.6" cy="324.7" rx="19.3" ry="5.6" fill="#fff" stroke="#222" stroke-width="1.3" transform="rotate(45 541.6 324.7)" />
<path d="M542.1 327.9 L546.1 323.9" fill="none" stroke="#222" stroke-width="1.17" />
<path d="M545 331.6 L549.5 326.5" fill="none" stroke="#222" stroke-width="1.17" />
<path d="M531.7 332.1 L536.9 336.2 L535.4 338 L531.4 335.1Z" fill="#fff" stroke="#222" stroke-width="1.17" />
<path d="M528.7 349.9 L542.1 335.1 L549.5 341 L539.1 355.8Z" fill="#fff" stroke="#222" stroke-width="1.3" />
<path d="M528.7 349.9 L529.5 352.9 L538.4 357.6 L539.1 355.8" fill="none" stroke="#222" stroke-width="1.3" />
<path d="M538.4 357.6 L548 343.9" fill="none" stroke="#222" stroke-width="1.17" />
</g>
<clipPath id="cb3"><rect x="277" y="606.4" width="98.2" height="90"/></clipPath><g clip-path="url(#cb3)">
<path d="M314.3 640.4C314.5 639.7 314.7 637.9 315.2 636.5C315.7 635.2 316.1 633.4 317.3 632.2C318.4 631 320.3 629.7 322.1 629.3C323.9 628.8 326.3 628.8 328.2 629.6C330.1 630.4 332.1 632.2 333.4 634C334.7 635.7 335.4 637.8 336 640C336.6 642.2 336.8 645.8 337 646.9" fill="#fff" stroke="#222" stroke-width="1.3" />
<path d="M316.9 638.3C317.3 637.5 317.9 634.6 319 633.4C320.1 632.2 322 631.3 323.5 631C325 630.7 326.7 630.7 328.2 631.4C329.7 632 331.8 634.5 332.5 635.2" fill="none" stroke="#222" stroke-width="1.04" />
<path d="M320.1 634.5 L320.1 637.9" fill="none" stroke="#222" stroke-width="1.17" />
<path d="M313.8 636.2 L315.2 639.3" fill="none" stroke="#222" stroke-width="1.17" />
<path d="M335.1 632.2 L339.4 630.1 L343.8 631.9 L345 636.2 L341.2 639.3 L336.8 637.8Z" fill="#fff" stroke="#222" stroke-width="1.3" />
<path d="M339.4 630.1 L340.5 634.8 L345 636.2" fill="none" stroke="#222" stroke-width="1.04" />
<path d="M340.5 634.8 L336.8 637.8" fill="none" stroke="#222" stroke-width="1.04" />
<path d="M343.8 631.9 L346.4 632.7 L346.7 635.2 L345 636.2" fill="none" stroke="#222" stroke-width="1.17" />
<path d="M337.4 638.3C337.7 639 339.1 641.2 339.4 642.6C339.7 644 339.1 646.2 339.1 646.9" fill="none" stroke="#222" stroke-width="2.08" />
<path d="M336 649C335.2 648.1 333.7 644.9 331.6 643.5C329.6 642 326.9 641 323.9 640.4C320.8 639.7 317.2 639.6 313.5 639.7C309.7 639.7 304.8 639.9 301.4 640.9C297.9 641.8 295.2 643.5 292.7 645.2C290.2 646.9 287.8 648.1 286.6 651.3C285.5 654.4 285.8 659.8 285.8 664.2C285.8 668.7 286.1 672.3 286.6 678.1C287.1 683.9 288.4 695.4 288.7 698.9" fill="none" stroke="#222" stroke-width="1.3" />
<path d="M293.6 653.5C293.6 651.4 294.9 648.9 297 647.3C299.2 645.6 302.9 644.4 306.5 643.6C310.1 642.9 314.9 642.3 318.7 642.6C322.4 642.9 326.6 643.9 329.1 645.2C331.5 646.5 332.8 648.7 333.6 650.4C334.3 652.1 334.3 653.9 333.6 655.6C332.8 657.3 331.5 659.5 329.1 660.8C326.6 662.1 322.4 663.1 318.7 663.5C314.9 664 310.1 663.9 306.5 663.4C302.9 662.8 299.2 661.7 297 660.1C294.9 658.4 293.6 655.6 293.6 653.5Z" fill="none" stroke="#222" stroke-width="1.3" />
<path d="M298.2 653.5C298.8 652.1 300 649.4 302.2 648.1C304.5 646.8 308.4 646 311.7 645.7C315.1 645.4 319.1 645.6 322.1 646.2C325.1 646.9 328.3 648.3 329.7 649.7C331.2 651.1 331.5 653.2 330.8 654.7C330.1 656.3 328.2 658 325.6 659C323 660.1 318.7 660.8 315.2 661C311.7 661.1 307.5 660.8 304.8 660.1C302.1 659.4 300.2 657.9 299.1 656.8C298 655.7 297.7 655 298.2 653.5Z" fill="none" stroke="#222" stroke-width="1.3" />
<path d="M315.6 648.7 L315.6 658.2" fill="none" stroke="#222" stroke-width="1.3" />
<path d="M323.9 647.8 L324.2 657.3" fill="none" stroke="#222" stroke-width="1.3" />
<path d="M287.2 654.7C288.7 656.4 292.4 662.2 296.2 664.6C300 667 305.4 668.3 310 668.9C314.6 669.5 319.8 669.1 323.9 668C327.9 667 332 665.1 334.2 662.9C336.4 660.6 336.7 657 337 654.7C337.4 652.4 336.4 650 336.3 649" fill="none" stroke="#222" stroke-width="1.3" />
<path d="M323.9 668C324.4 670.3 325.9 676.4 327.3 681.5C328.7 686.7 331.4 696 332.2 698.9" fill="none" stroke="#222" stroke-width="1.3" />
<path d="M337 654.7C337.3 656.9 337.6 663.2 338.6 667.7C339.6 672.2 340.7 676.4 342.9 681.5C345.1 686.7 350.4 696 351.9 698.9" fill="none" stroke="#222" stroke-width="1.3" />
<path d="M336.8 647.3C337.6 645.8 340.9 645.5 342.9 646.1C344.9 646.6 348.4 648.8 348.9 650.4C349.5 652 348.1 654.8 346.4 655.6C344.6 656.3 340.2 656.3 338.6 654.9C337 653.5 336.1 648.8 336.8 647.3Z" fill="#fff" stroke="#222" stroke-width="1.3" />
<path d="M340.5 649.5C341.2 649.1 344.1 649.4 344.6 650C345.2 650.7 344.5 652.8 343.8 653.2C343.1 653.6 341 653.1 340.5 652.5C339.9 651.9 339.8 649.9 340.5 649.5Z" fill="none" stroke="#222" stroke-width="1.17" />
<path d="M348.9 650.4C349.4 652.7 350 659.3 351.6 664.2C353.1 669.1 355.6 675.2 358.5 679.8C361.4 684.4 365.7 689.3 368.9 691.9C372 694.6 376.1 695.1 377.5 695.7" fill="none" stroke="#222" stroke-width="1.3" />
<path d="M346.4 655.6C346.7 657.6 347 663.1 348.4 667.7C349.9 672.3 352.4 678.8 355 683.3C357.6 687.8 360.3 692 364 694.7C367.8 697.4 375.3 698.7 377.5 699.5" fill="none" stroke="#222" stroke-width="1.3" />
<path d="M341.2 655.6C341.5 657.6 341.8 663.1 343.2 667.7C344.7 672.3 347.1 678.1 349.8 683.3C352.5 688.5 357.8 696.3 359.3 698.9" fill="none" stroke="#222" stroke-width="1.17" />
<path d="M357.6 691.2C359.2 691 363.8 690.2 367.1 689.9C370.4 689.5 375.8 689.3 377.5 689.2" fill="none" stroke="#222" stroke-width="1.17" />
<path d="M361.9 697.5C363.4 697.1 368 696 370.6 695.4C373.2 694.8 376.4 694.2 377.5 694" fill="none" stroke="#222" stroke-width="1.17" />
</g>
<path d="M484.2 612.5 L578.7 666.1 L583.3 657.9 L488.8 604.3Z" fill="#fff" stroke="none" stroke-width="0.0" />
<line x1="484.2" y1="612.5" x2="578.7" y2="666.1" stroke="#222" stroke-width="1.3" />
<line x1="488.8" y1="604.3" x2="583.3" y2="657.9" stroke="#222" stroke-width="1.3" />
<ellipse cx="487.9" cy="609.2" rx="2" ry="4.7" fill="#fff" stroke="#222" stroke-width="1.3" transform="rotate(29.6 487.9 609.2)" />
<path d="M485.6 613.3 L487.7 614.5 L492.3 606.3 L490.2 605.1Z" fill="#fff" stroke="none" stroke-width="0.0" />
<path d="M491.6 605.9C491.6 605.9 491.8 606 491.9 606.1C491.9 606.2 492 606.3 492 606.5C492.1 606.6 492.1 606.8 492.2 606.9C492.2 607.1 492.2 607.3 492.2 607.5C492.2 607.7 492.1 607.9 492.1 608.1C492.1 608.3 492 608.5 491.9 608.8C491.9 609 491.8 609.3 491.7 609.5C491.6 609.7 491.5 610 491.4 610.2C491.3 610.5 491.1 610.7 491 611C490.9 611.2 490.7 611.4 490.6 611.6C490.4 611.9 490.3 612.1 490.1 612.3C489.9 612.5 489.8 612.7 489.6 612.9C489.4 613 489.3 613.2 489.1 613.4C488.9 613.5 488.8 613.6 488.6 613.7C488.4 613.8 488.3 613.9 488.1 614C488 614.1 487.8 614.1 487.7 614.2C487.6 614.2 487.4 614.2 487.3 614.2C487.2 614.2 487 614.1 487 614.1" fill="none" stroke="#222" stroke-width="1.17" />
<path d="M494 607.3C494.1 607.3 494.2 607.4 494.3 607.5C494.3 607.6 494.4 607.7 494.5 607.8C494.5 608 494.5 608.1 494.6 608.3C494.6 608.5 494.6 608.6 494.6 608.8C494.6 609 494.5 609.2 494.5 609.5C494.5 609.7 494.4 609.9 494.3 610.1C494.3 610.4 494.2 610.6 494.1 610.9C494 611.1 493.9 611.4 493.8 611.6C493.7 611.8 493.5 612.1 493.4 612.3C493.3 612.6 493.1 612.8 493 613C492.8 613.2 492.7 613.5 492.5 613.7C492.4 613.9 492.2 614.1 492 614.2C491.9 614.4 491.7 614.6 491.5 614.7C491.3 614.9 491.2 615 491 615.1C490.9 615.2 490.7 615.3 490.5 615.4C490.4 615.4 490.2 615.5 490.1 615.5C490 615.5 489.8 615.6 489.7 615.5C489.6 615.5 489.4 615.4 489.4 615.4" fill="none" stroke="#222" stroke-width="1.17" />
<path d="M496.4 608.6C496.5 608.7 496.6 608.8 496.7 608.9C496.8 608.9 496.8 609.1 496.9 609.2C496.9 609.3 496.9 609.5 497 609.7C497 609.8 497 610 497 610.2C497 610.4 496.9 610.6 496.9 610.8C496.9 611 496.8 611.3 496.7 611.5C496.7 611.7 496.6 612 496.5 612.2C496.4 612.5 496.3 612.7 496.2 613C496.1 613.2 495.9 613.4 495.8 613.7C495.7 613.9 495.5 614.2 495.4 614.4C495.2 614.6 495.1 614.8 494.9 615C494.8 615.2 494.6 615.4 494.4 615.6C494.3 615.8 494.1 615.9 493.9 616.1C493.8 616.2 493.6 616.4 493.4 616.5C493.3 616.6 493.1 616.7 492.9 616.7C492.8 616.8 492.6 616.9 492.5 616.9C492.4 616.9 492.2 616.9 492.1 616.9C492 616.9 491.8 616.8 491.8 616.8" fill="none" stroke="#222" stroke-width="1.17" />
<path d="M498.8 610C498.9 610 499 610.1 499.1 610.2C499.2 610.3 499.2 610.4 499.3 610.6C499.3 610.7 499.4 610.9 499.4 611C499.4 611.2 499.4 611.4 499.4 611.6C499.4 611.8 499.3 612 499.3 612.2C499.3 612.4 499.2 612.6 499.1 612.9C499.1 613.1 499 613.3 498.9 613.6C498.8 613.8 498.7 614.1 498.6 614.3C498.5 614.6 498.4 614.8 498.2 615C498.1 615.3 497.9 615.5 497.8 615.7C497.6 616 497.5 616.2 497.3 616.4C497.2 616.6 497 616.8 496.8 617C496.7 617.1 496.5 617.3 496.3 617.4C496.2 617.6 496 617.7 495.8 617.8C495.7 617.9 495.5 618 495.4 618.1C495.2 618.2 495.1 618.2 494.9 618.2C494.8 618.3 494.6 618.3 494.5 618.3C494.4 618.3 494.2 618.2 494.2 618.2" fill="none" stroke="#222" stroke-width="1.17" />
<path d="M587.1 656.3 L582.9 657.1 L579.2 662 L577.6 668 L578.4 670.9 L583.7 673.7 L587.9 675.3Z" fill="#fff" stroke="none" stroke-width="0.0" />
<path d="M587.1 656.3C586.4 656.4 584.2 656.2 582.9 657.1C581.6 658 580.1 660.2 579.2 662C578.3 663.8 577.7 666.5 577.6 668C577.5 669.5 577.4 670 578.4 670.9C579.4 671.9 582.1 673 583.7 673.7C585.3 674.4 587.2 675 587.9 675.3" fill="none" stroke="#222" stroke-width="1.3" />
<line x1="582.9" y1="657.4" x2="580.5" y2="666.8" stroke="#222" stroke-width="1.04" />
<line x1="578" y1="667.6" x2="584.1" y2="670.1" stroke="#222" stroke-width="1.04" />
<ellipse cx="589.7" cy="666.7" rx="5" ry="8.3" fill="#fff" stroke="#222" stroke-width="1.3" transform="rotate(25 589.7 666.7)" />
<line x1="465.2" y1="621.6" x2="477.8" y2="616.4" stroke="#333" stroke-width="3.38" />
<line x1="466.5" y1="621" x2="476.5" y2="616.9" stroke="#fff" stroke-width="0.78" />
<ellipse cx="465.6" cy="621.3" rx="1.7" ry="1.3" fill="#fff" stroke="#222" stroke-width="1.17" transform="rotate(-22 465.6 621.3)" />
<line x1="479.5" y1="615.4" x2="484.5" y2="612.8" stroke="#222" stroke-width="1.04" stroke-dasharray="2 1.5"/>
<line x1="329.5" y1="574.2" x2="352.8" y2="564.2" stroke="#3a3a3a" stroke-width="6.4" />
<ellipse cx="331.2" cy="571.8" rx="1.9" ry="1.1" fill="#fff" stroke="none" stroke-width="0.0" transform="rotate(-23.2 331.2 571.8)" />
<ellipse cx="332.4" cy="574.6" rx="1.9" ry="1.1" fill="#fff" stroke="none" stroke-width="0.0" transform="rotate(-23.2 332.4 574.6)" />
<ellipse cx="335.9" cy="569.8" rx="1.9" ry="1.1" fill="#fff" stroke="none" stroke-width="0.0" transform="rotate(-23.2 335.9 569.8)" />
<ellipse cx="337.1" cy="572.6" rx="1.9" ry="1.1" fill="#fff" stroke="none" stroke-width="0.0" transform="rotate(-23.2 337.1 572.6)" />
<ellipse cx="340.6" cy="567.8" rx="1.9" ry="1.1" fill="#fff" stroke="none" stroke-width="0.0" transform="rotate(-23.2 340.6 567.8)" />
<ellipse cx="341.7" cy="570.6" rx="1.9" ry="1.1" fill="#fff" stroke="none" stroke-width="0.0" transform="rotate(-23.2 341.7 570.6)" />
<ellipse cx="345.2" cy="565.8" rx="1.9" ry="1.1" fill="#fff" stroke="none" stroke-width="0.0" transform="rotate(-23.2 345.2 565.8)" />
<ellipse cx="346.4" cy="568.6" rx="1.9" ry="1.1" fill="#fff" stroke="none" stroke-width="0.0" transform="rotate(-23.2 346.4 568.6)" />
<ellipse cx="349.9" cy="563.8" rx="1.9" ry="1.1" fill="#fff" stroke="none" stroke-width="0.0" transform="rotate(-23.2 349.9 563.8)" />
<ellipse cx="351.1" cy="566.6" rx="1.9" ry="1.1" fill="#fff" stroke="none" stroke-width="0.0" transform="rotate(-23.2 351.1 566.6)" />
<line x1="362.6" y1="559.6" x2="368.6" y2="556.8" stroke="#3a3a3a" stroke-width="8.2" />
<ellipse cx="363.5" cy="557.5" rx="1.9" ry="1.1" fill="#fff" stroke="none" stroke-width="0.0" transform="rotate(-25 363.5 557.5)" />
<ellipse cx="364.7" cy="560.3" rx="1.9" ry="1.1" fill="#fff" stroke="none" stroke-width="0.0" transform="rotate(-25 364.7 560.3)" />
<ellipse cx="366.5" cy="556.1" rx="1.9" ry="1.1" fill="#fff" stroke="none" stroke-width="0.0" transform="rotate(-25 366.5 556.1)" />
<ellipse cx="367.7" cy="558.9" rx="1.9" ry="1.1" fill="#fff" stroke="none" stroke-width="0.0" transform="rotate(-25 367.7 558.9)" />
<line x1="376.2" y1="552" x2="395.2" y2="543.3" stroke="#3a3a3a" stroke-width="6.2" />
<ellipse cx="378" cy="549.5" rx="1.9" ry="1.1" fill="#fff" stroke="none" stroke-width="0.0" transform="rotate(-24.6 378 549.5)" />
<ellipse cx="379.2" cy="552.3" rx="1.9" ry="1.1" fill="#fff" stroke="none" stroke-width="0.0" transform="rotate(-24.6 379.2 552.3)" />
<ellipse cx="382.7" cy="547.4" rx="1.9" ry="1.1" fill="#fff" stroke="none" stroke-width="0.0" transform="rotate(-24.6 382.7 547.4)" />
<ellipse cx="383.9" cy="550.1" rx="1.9" ry="1.1" fill="#fff" stroke="none" stroke-width="0.0" transform="rotate(-24.6 383.9 550.1)" />
<ellipse cx="387.5" cy="545.2" rx="1.9" ry="1.1" fill="#fff" stroke="none" stroke-width="0.0" transform="rotate(-24.6 387.5 545.2)" />
<ellipse cx="388.7" cy="547.9" rx="1.9" ry="1.1" fill="#fff" stroke="none" stroke-width="0.0" transform="rotate(-24.6 388.7 547.9)" />
<ellipse cx="392.2" cy="543" rx="1.9" ry="1.1" fill="#fff" stroke="none" stroke-width="0.0" transform="rotate(-24.6 392.2 543)" />
<ellipse cx="393.4" cy="545.8" rx="1.9" ry="1.1" fill="#fff" stroke="none" stroke-width="0.0" transform="rotate(-24.6 393.4 545.8)" />
<path d="M166.6 673 L177.9 655 L179.9 659.2 L197.5 649.4 L200.6 651.2 L200.6 663.6 L181.5 674.7 L180.6 680.9Z" fill="#fff" stroke="#222" stroke-width="1.62" />
<path d="M179.9 659.2 L182.3 661.1 L197.5 652.3 L197.5 649.4" fill="none" stroke="#222" stroke-width="1.04" />
<path d="M182.3 661.1 L181.5 674.7" fill="none" stroke="#222" stroke-width="1.04" />
<path d="M168.9 673 L179.2 657.2" fill="none" stroke="#222" stroke-width="1.04" />
<path d="M197.5 652.3 L200.6 653.6" fill="none" stroke="#222" stroke-width="0.78" />
<path d="M236.8 55.4 L365.3 55.4 L365.3 160.8 L236.8 160.8Z" fill="none" stroke="#383838" stroke-width="1.3" />
<path d="M480.3 280 L536 248 L611.5 248 L611.5 415.2 L480.3 415.2Z" fill="none" stroke="#383838" stroke-width="1.3" />
<path d="M276.6 605.9 L376 605.9 L376 697.2 L276.6 697.2Z" fill="none" stroke="#383838" stroke-width="1.3" />
<path d="M435.3 590.2 L609.6 590.2 L609.6 697 L435.3 697Z" fill="none" stroke="#383838" stroke-width="1.3" />
<path d="M214.4 342 L149 305.4 L333.9 199.6 L451.2 267.4 L554.9 208.1 L544.4 200.9" fill="none" stroke="#222" stroke-width="1.3" stroke-dasharray="91.5 2.5 2.5 2.5" stroke-dashoffset="-4.5"/>
<rect x="449.5" y="367.5" width="30" height="27" fill="#eeeee8" stroke="#ed1c24" stroke-width="5"/>
<rect x="452.7" y="370.7" width="23.6" height="20.6" fill="none" stroke="#b9bc9f" stroke-width="1.4"/>
<line x1="459.7" y1="387.3" x2="458.6" y2="390.6" stroke="#222" stroke-width="1.3" />
<line x1="390.7" y1="69.2" x2="384.2" y2="103.6" stroke="#222" stroke-width="1.3" />
<line x1="423.6" y1="89.4" x2="411.9" y2="114.7" stroke="#222" stroke-width="1.3" />
<line x1="453" y1="105.6" x2="442.8" y2="129.8" stroke="#222" stroke-width="1.3" />
<line x1="480.2" y1="121.8" x2="468.1" y2="144" stroke="#222" stroke-width="1.3" />
<line x1="504.5" y1="137" x2="490.3" y2="157" stroke="#222" stroke-width="1.3" />
<line x1="537.1" y1="154.8" x2="525" y2="181.5" stroke="#222" stroke-width="1.3" />
<line x1="218.7" y1="290.3" x2="233.8" y2="300" stroke="#222" stroke-width="1.3" />
<line x1="410.4" y1="316" x2="447.8" y2="321.7" stroke="#222" stroke-width="1.3" />
<line x1="505" y1="304.3" x2="525.4" y2="310.6" stroke="#222" stroke-width="1.3" />
<line x1="503" y1="348.2" x2="529.9" y2="350.2" stroke="#222" stroke-width="1.3" />
<line x1="465.5" y1="640" x2="468.4" y2="624" stroke="#222" stroke-width="1.3" />
<line x1="518.2" y1="657.2" x2="528.9" y2="639.1" stroke="#222" stroke-width="1.3" />
<line x1="357.6" y1="625.8" x2="345.5" y2="632.7" stroke="#222" stroke-width="1.3" />
<line x1="365.4" y1="578.7" x2="368.6" y2="561.9" stroke="#222" stroke-width="1.3" />
<line x1="448.5" y1="532.6" x2="464.5" y2="513.9" stroke="#222" stroke-width="1.3" />
<path d="M389.9 551.2 L399.2 580.5 L369.1 597.8 L365.9 591.2" fill="none" stroke="#222" stroke-width="1.3" />
<line x1="384.6" y1="590.4" x2="385.4" y2="594.6" stroke="#222" stroke-width="1.3" />
<g style="filter:opacity(1)">
<text transform="translate(179.6 673.0) skewY(-27) scale(0.76 1)" font-size="10.3" font-weight="bold" font-style="italic" fill="#222" stroke="#222" stroke-width="0.3">FWD</text>
<text transform="translate(302 75.6) scale(1.25 1)" font-size="9.6" font-weight="normal" text-anchor="middle" fill="#222" stroke="#222" stroke-width="0.55">21</text>
<text transform="translate(391.4 67.3) scale(1.25 1)" font-size="9.6" font-weight="normal" text-anchor="middle" fill="#222" stroke="#222" stroke-width="0.55">21</text>
<text transform="translate(425.7 86.2) scale(1.25 1)" font-size="9.6" font-weight="normal" text-anchor="middle" fill="#222" stroke="#222" stroke-width="0.55">19</text>
<text transform="translate(455 103) scale(1.25 1)" font-size="9.6" font-weight="normal" text-anchor="middle" fill="#222" stroke="#222" stroke-width="0.55">17</text>
<text transform="translate(483.3 119.7) scale(1.25 1)" font-size="9.6" font-weight="normal" text-anchor="middle" fill="#222" stroke="#222" stroke-width="0.55">4</text>
<text transform="translate(508.5 134.6) scale(1.25 1)" font-size="9.6" font-weight="normal" text-anchor="middle" fill="#222" stroke="#222" stroke-width="0.55">3</text>
<text transform="translate(539.2 152.3) scale(1.25 1)" font-size="9.6" font-weight="normal" text-anchor="middle" fill="#222" stroke="#222" stroke-width="0.55">2</text>
<text transform="translate(214 291) scale(1.25 1)" font-size="9.6" font-weight="normal" text-anchor="middle" fill="#222" stroke="#222" stroke-width="0.55">5</text>
<text transform="translate(454 326.6) scale(1.25 1)" font-size="9.6" font-weight="normal" text-anchor="middle" fill="#222" stroke="#222" stroke-width="0.55">7</text>
<text transform="translate(181 370) scale(1.25 1)" font-size="9.6" font-weight="normal" text-anchor="middle" fill="#222" stroke="#222" stroke-width="0.55">6</text>
<text transform="translate(172 398) scale(1.25 1)" font-size="9.6" font-weight="normal" text-anchor="middle" fill="#222" stroke="#222" stroke-width="0.55">10</text>
<text transform="translate(255 456) scale(1.25 1)" font-size="9.6" font-weight="normal" text-anchor="middle" fill="#222" stroke="#222" stroke-width="0.55">1</text>
<text transform="translate(312.5 467) scale(1.25 1)" font-size="9.6" font-weight="normal" text-anchor="middle" fill="#222" stroke="#222" stroke-width="0.55">3</text>
<text transform="translate(332.6 478) scale(1.25 1)" font-size="9.6" font-weight="normal" text-anchor="middle" fill="#222" stroke="#222" stroke-width="0.55">4</text>
<text transform="translate(351.3 487.3) scale(1.25 1)" font-size="9.6" font-weight="normal" text-anchor="middle" fill="#222" stroke="#222" stroke-width="0.55">16</text>
<text transform="translate(498.7 307.2) scale(1.25 1)" font-size="9.6" font-weight="normal" text-anchor="middle" fill="#222" stroke="#222" stroke-width="0.55">8</text>
<text transform="translate(497.4 351.8) scale(1.25 1)" font-size="9.6" font-weight="normal" text-anchor="middle" fill="#222" stroke="#222" stroke-width="0.55">9</text>
<text transform="translate(519 448) scale(1.25 1)" font-size="9.6" font-weight="normal" text-anchor="middle" fill="#222" stroke="#222" stroke-width="0.55">12</text>
<text transform="translate(554.5 468.5) scale(1.25 1)" font-size="9.6" font-weight="normal" text-anchor="middle" fill="#222" stroke="#222" stroke-width="0.55">14</text>
<text transform="translate(582 484.6) scale(1.25 1)" font-size="9.6" font-weight="normal" text-anchor="middle" fill="#222" stroke="#222" stroke-width="0.55">13</text>
<text transform="translate(444.5 543.8) scale(1.25 1)" font-size="9.6" font-weight="normal" text-anchor="middle" fill="#222" stroke="#222" stroke-width="0.55">18</text>
<text transform="translate(520.5 566) scale(1.25 1)" font-size="9.6" font-weight="normal" text-anchor="middle" fill="#222" stroke="#222" stroke-width="0.55">20</text>
<text transform="translate(363.8 589) scale(1.25 1)" font-size="9.6" font-weight="normal" text-anchor="middle" fill="#222" stroke="#222" stroke-width="0.55">24</text>
<text transform="translate(387.2 605.8) scale(1.25 1)" font-size="9.6" font-weight="normal" text-anchor="middle" fill="#222" stroke="#222" stroke-width="0.55">23</text>
<text transform="translate(364 626.5) scale(1.25 1)" font-size="9.6" font-weight="normal" text-anchor="middle" fill="#222" stroke="#222" stroke-width="0.55">15</text>
<text transform="translate(463.1 651.4) scale(1.25 1)" font-size="9.6" font-weight="normal" text-anchor="middle" fill="#222" stroke="#222" stroke-width="0.55">22</text>
<text transform="translate(514.7 670.6) scale(1.25 1)" font-size="9.6" font-weight="normal" text-anchor="middle" fill="#222" stroke="#222" stroke-width="0.55">20</text>
<text transform="translate(485 412.3) scale(1.37 1)" font-size="9.6" font-weight="normal" text-anchor="start" fill="#222" stroke="#222" stroke-width="0.5">4JG1~4</text>
<text transform="translate(279 617.4) scale(1.37 1)" font-size="9.6" font-weight="normal" text-anchor="start" fill="#222" stroke="#222" stroke-width="0.5">4JG1~4</text>
<text transform="translate(442.3 693.2) scale(1.37 1)" font-size="9.6" font-weight="normal" text-anchor="start" fill="#222" stroke="#222" stroke-width="0.5">4JG1~4</text>
<text transform="translate(243 158) scale(1.37 1)" font-size="9.6" font-weight="normal" text-anchor="start" fill="#222" stroke="#222" stroke-width="0.5">4JG1~4</text>
<text transform="translate(148.6 696) scale(1.325 1)" font-size="8.8" font-weight="normal" text-anchor="start" fill="#333" stroke="#333" stroke-width="0.45">4JG6010-8280</text>
<text transform="translate(462 384.5) scale(1.25 1)" font-size="9.6" font-weight="normal" text-anchor="middle" fill="#222" stroke="#222" stroke-width="0.55">11</text>
</g>
</svg>
</body></html>
